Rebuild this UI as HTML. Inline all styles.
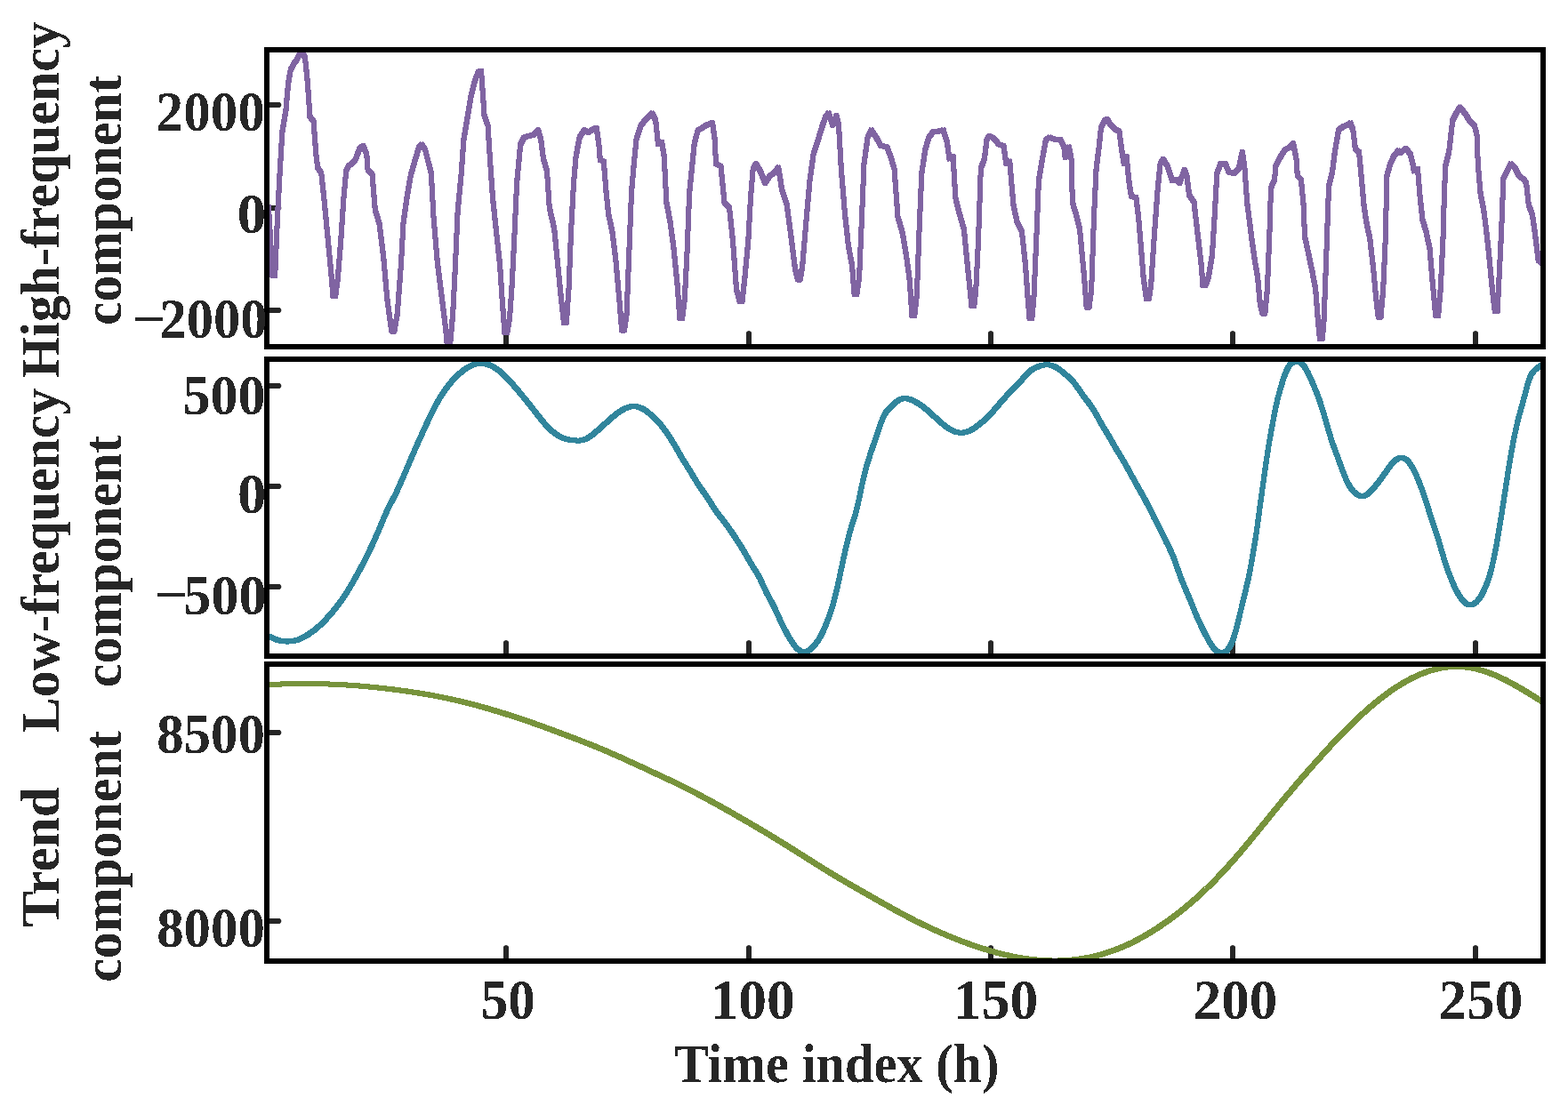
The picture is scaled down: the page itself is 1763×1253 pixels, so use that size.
<!DOCTYPE html><html><head><meta charset="utf-8"><title>Decomposition</title><style>html,body{margin:0;padding:0;background:#fff;overflow:hidden}svg{display:block}</style></head><body>
<svg width="1763" height="1253" viewBox="0 0 1763 1253">
<rect width="1763" height="1253" fill="#fff"/>
<defs>
<clipPath id="c0"><rect x="300" y="56" width="1435" height="334"/></clipPath>
<clipPath id="c1"><rect x="300" y="404" width="1435" height="334"/></clipPath>
<clipPath id="c2"><rect x="300" y="747" width="1435" height="334"/></clipPath>
<filter id="crisp" x="0" y="0" width="100%" height="100%" filterUnits="userSpaceOnUse"><feComponentTransfer><feFuncA type="discrete" tableValues="0 1"/></feComponentTransfer></filter>
</defs>
<g fill="#262626" stroke="none">
<path d="M566,390 L566,373.8 Q569,370.4 572,373.8 L572,390 Z"/>
<path d="M839,390 L839,373.8 Q842,370.4 845,373.8 L845,390 Z"/>
<path d="M1111,390 L1111,373.8 Q1114,370.4 1117,373.8 L1117,390 Z"/>
<path d="M1383,390 L1383,373.8 Q1386,370.4 1389,373.8 L1389,390 Z"/>
<path d="M1656,390 L1656,373.8 Q1659,370.4 1662,373.8 L1662,390 Z"/>
<path d="M300,115 L314.6,115 Q318.2,118 314.6,121 L300,121 Z"/>
<path d="M300,231 L314.6,231 Q318.2,234 314.6,237 L300,237 Z"/>
<path d="M300,346 L314.6,346 Q318.2,349 314.6,352 L300,352 Z"/>
<path d="M566,738 L566,721.8 Q569,718.4 572,721.8 L572,738 Z"/>
<path d="M839,738 L839,721.8 Q842,718.4 845,721.8 L845,738 Z"/>
<path d="M1111,738 L1111,721.8 Q1114,718.4 1117,721.8 L1117,738 Z"/>
<path d="M1383,738 L1383,721.8 Q1386,718.4 1389,721.8 L1389,738 Z"/>
<path d="M1656,738 L1656,721.8 Q1659,718.4 1662,721.8 L1662,738 Z"/>
<path d="M300,431 L314.6,431 Q318.2,434 314.6,437 L300,437 Z"/>
<path d="M300,544 L314.6,544 Q318.2,547 314.6,550 L300,550 Z"/>
<path d="M300,657 L314.6,657 Q318.2,660 314.6,663 L300,663 Z"/>
<path d="M566,1081 L566,1064.8 Q569,1061.4 572,1064.8 L572,1081 Z"/>
<path d="M839,1081 L839,1064.8 Q842,1061.4 845,1064.8 L845,1081 Z"/>
<path d="M1111,1081 L1111,1064.8 Q1114,1061.4 1117,1064.8 L1117,1081 Z"/>
<path d="M1383,1081 L1383,1064.8 Q1386,1061.4 1389,1064.8 L1389,1081 Z"/>
<path d="M1656,1081 L1656,1064.8 Q1659,1061.4 1662,1064.8 L1662,1081 Z"/>
<path d="M300,821 L314.6,821 Q318.2,824 314.6,827 L300,827 Z"/>
<path d="M300,1033 L314.6,1033 Q318.2,1036 314.6,1039 L300,1039 Z"/>
</g>
<g clip-path="url(#c0)" fill="none" stroke="#8064A2" stroke-width="3.50" stroke-linejoin="round" stroke-linecap="round" shape-rendering="crispEdges">
<polyline transform="translate(-1.25,-1.25)" points="302.0,233.0 306.4,310.0 309.2,310.0 312.0,244.0 314.6,195.0 317.3,149.0 321.4,124.5 324.0,94.7 326.8,78.4 330.9,71.0 333.0,69.0 338.5,57.0 343.0,64.8 345.8,92.0 348.5,131.3 352.6,136.7 355.3,173.3 357.2,188.3 361.3,195.0 364.8,227.6 368.9,271.0 373.0,314.4 374.3,333.4 377.1,333.4 379.7,314.4 383.2,271.0 386.5,222.0 389.2,192.3 392.0,186.4 396.0,184.0 400.0,178.8 404.0,168.0 408.2,163.8 412.3,173.3 413.6,191.0 418.5,196.4 421.8,235.7 426.6,252.0 431.3,290.0 435.3,336.0 439.4,366.0 440.6,372.7 443.4,372.7 446.8,352.5 450.9,298.0 453.6,249.4 457.6,222.2 461.7,197.8 467.1,178.8 471.2,165.3 474.0,162.5 478.0,168.0 480.7,178.8 484.8,195.0 487.5,244.0 491.6,292.8 495.6,325.4 501.0,368.8 503.1,390.0 505.9,390.0 509.2,352.5 512.0,298.0 514.6,238.5 518.7,195.0 521.4,157.0 525.5,132.7 529.6,108.3 533.6,92.0 537.7,81.0 541.0,79.8 543.1,108.3 544.5,130.0 548.5,140.8 551.3,184.0 554.0,222.2 558.0,260.2 562.1,298.0 564.8,339.0 567.5,374.2 570.3,374.2 573.0,358.0 575.7,320.0 578.4,265.7 581.1,206.0 585.2,162.5 589.3,154.4 594.7,153.0 600.1,151.7 605.0,146.3 608.2,157.0 611.0,178.8 615.0,192.4 617.7,233.0 623.2,257.5 627.2,298.0 631.3,339.0 634.0,363.4 636.8,363.4 639.5,325.4 642.2,257.5 645.0,206.0 647.6,176.0 651.7,154.4 657.1,146.3 661.2,149.0 665.3,146.3 670.7,143.6 673.4,162.5 674.8,180.0 678.8,181.5 681.6,216.8 684.3,241.2 688.3,260.2 692.4,292.8 696.5,339.0 699.2,371.5 702.0,371.5 704.6,352.5 707.3,284.7 710.0,216.8 712.8,184.3 715.5,157.0 720.9,140.8 725.0,135.4 729.0,131.3 733.1,127.3 737.2,135.4 740.0,162.5 744.0,159.8 746.7,176.0 749.4,227.7 753.5,249.4 757.5,279.2 761.6,320.0 764.3,358.0 767.1,358.0 769.8,336.2 772.5,284.7 775.2,216.8 777.9,189.7 780.6,162.5 784.7,146.3 790.1,143.6 794.2,140.8 801.0,138.1 803.7,157.0 805.0,184.3 810.5,187.0 814.5,227.7 820.0,233.0 824.0,271.0 828.0,325.4 831.7,339.0 834.5,339.0 837.2,314.5 841.3,271.0 844.0,222.2 846.7,189.7 850.0,184.3 854.9,192.4 860.3,206.0 865.7,197.8 871.1,193.8 875.2,188.3 879.3,214.1 884.7,230.4 890.1,271.0 894.2,303.7 896.9,314.5 899.7,314.5 902.3,298.2 906.4,249.4 910.5,203.3 914.6,173.4 920.0,157.0 924.0,143.6 928.1,131.3 931.6,127.3 936.3,140.8 940.3,130.0 943.0,140.8 945.8,189.7 949.8,238.5 953.9,276.5 958.0,298.2 960.6,330.8 963.4,330.8 966.1,311.8 968.8,249.4 971.5,184.3 975.6,154.4 979.7,146.3 985.1,154.4 990.5,164.0 997.3,165.3 1001.4,176.1 1005.5,189.7 1009.5,244.0 1015.0,263.0 1019.0,287.4 1022.7,314.5 1025.4,355.2 1028.2,355.2 1030.9,330.8 1033.6,257.5 1036.3,195.0 1040.4,168.0 1044.4,154.4 1049.9,147.6 1055.3,147.6 1060.7,146.3 1064.8,159.8 1067.5,178.8 1071.6,176.0 1074.3,222.2 1078.3,238.5 1083.8,257.5 1087.8,298.2 1090.6,325.4 1092.4,344.4 1095.2,344.4 1097.3,325.4 1100.0,271.0 1102.8,189.7 1106.8,178.8 1109.6,157.0 1112.3,153.0 1117.7,155.8 1123.1,162.5 1128.5,164.0 1131.3,184.3 1135.3,181.5 1139.4,230.4 1143.5,249.4 1148.9,260.2 1153.0,298.2 1155.7,336.2 1157.5,358.0 1160.3,358.0 1162.5,333.5 1165.2,271.0 1167.9,203.3 1172.0,178.8 1176.0,157.0 1180.1,154.4 1185.5,156.6 1192.3,157.0 1196.4,165.3 1197.7,177.5 1201.8,165.3 1204.5,178.8 1205.9,227.7 1210.0,241.2 1214.0,257.5 1219.1,311.8 1221.7,345.7 1224.5,345.7 1227.2,325.4 1230.0,244.0 1232.6,189.7 1235.4,168.0 1238.0,143.6 1242.1,135.4 1244.9,134.0 1249.0,140.8 1253.0,145.0 1258.4,147.6 1261.1,168.0 1263.8,184.3 1266.6,176.0 1269.3,203.3 1272.0,220.9 1277.4,222.2 1280.1,244.0 1282.8,276.5 1285.6,311.8 1289.0,336.2 1291.8,336.2 1294.2,320.0 1297.8,265.7 1301.8,211.4 1304.6,184.3 1307.8,178.8 1312.7,187.0 1318.1,203.3 1323.5,201.9 1326.3,206.0 1331.7,191.0 1334.4,197.8 1337.1,219.5 1342.5,227.7 1346.6,263.0 1350.7,298.2 1352.5,321.3 1355.3,321.3 1358.8,311.8 1362.9,287.4 1365.6,244.0 1368.3,195.0 1372.4,184.3 1377.8,184.3 1381.9,193.8 1387.3,195.0 1392.7,189.7 1396.8,170.7 1399.5,189.7 1402.2,227.7 1407.7,271.0 1411.7,298.2 1414.1,311.8 1416.8,341.7 1419.5,352.5 1422.3,352.5 1424.9,325.4 1427.6,257.5 1429.0,211.4 1433.1,201.9 1434.4,187.0 1439.9,176.1 1445.3,168.0 1450.7,165.3 1454.0,161.2 1457.5,178.8 1458.8,197.8 1462.9,201.9 1465.6,230.4 1467.0,265.7 1471.1,284.7 1475.1,303.7 1479.2,325.4 1481.9,360.7 1484.0,381.0 1486.8,381.0 1488.7,358.0 1491.4,284.7 1492.8,244.0 1494.1,208.7 1498.2,192.4 1500.9,170.7 1505.0,146.3 1510.4,142.2 1514.5,140.8 1518.5,138.1 1521.3,146.3 1524.0,168.0 1528.0,170.7 1530.8,200.5 1533.5,230.4 1536.2,249.4 1540.3,268.4 1544.3,303.7 1547.0,333.5 1549.7,356.6 1552.5,356.6 1555.2,325.4 1557.9,265.7 1559.3,197.8 1563.3,184.3 1566.8,176.2 1572.2,169.4 1575.0,172.0 1580.4,166.7 1585.8,173.5 1588.5,184.3 1589.9,192.5 1594.0,189.8 1596.7,222.3 1599.4,246.8 1603.4,260.4 1607.5,279.4 1610.2,312.0 1613.0,341.8 1614.3,355.4 1617.1,355.4 1619.7,325.5 1622.4,271.2 1623.8,222.3 1625.2,187.0 1629.2,170.8 1632.0,146.3 1633.3,135.5 1637.4,127.3 1641.5,120.5 1646.9,127.3 1652.3,135.5 1657.7,140.9 1660.5,151.7 1661.8,184.3 1664.5,216.9 1668.6,238.6 1671.3,260.4 1674.0,284.8 1676.8,314.7 1679.5,339.1 1680.8,350.0 1683.6,350.0 1684.9,325.5 1687.6,271.2 1689.0,238.6 1690.3,200.6 1694.4,192.5 1698.5,184.3 1703.9,189.8 1708.0,197.9 1713.4,202.0 1716.1,206.0 1718.8,230.5 1722.9,241.3 1725.6,260.4 1729.7,293.0 1735.0,297.0"/>
<polyline transform="translate(1.25,-1.25)" points="302.0,233.0 306.4,310.0 309.2,310.0 312.0,244.0 314.6,195.0 317.3,149.0 321.4,124.5 324.0,94.7 326.8,78.4 330.9,71.0 333.0,69.0 338.5,57.0 343.0,64.8 345.8,92.0 348.5,131.3 352.6,136.7 355.3,173.3 357.2,188.3 361.3,195.0 364.8,227.6 368.9,271.0 373.0,314.4 374.3,333.4 377.1,333.4 379.7,314.4 383.2,271.0 386.5,222.0 389.2,192.3 392.0,186.4 396.0,184.0 400.0,178.8 404.0,168.0 408.2,163.8 412.3,173.3 413.6,191.0 418.5,196.4 421.8,235.7 426.6,252.0 431.3,290.0 435.3,336.0 439.4,366.0 440.6,372.7 443.4,372.7 446.8,352.5 450.9,298.0 453.6,249.4 457.6,222.2 461.7,197.8 467.1,178.8 471.2,165.3 474.0,162.5 478.0,168.0 480.7,178.8 484.8,195.0 487.5,244.0 491.6,292.8 495.6,325.4 501.0,368.8 503.1,390.0 505.9,390.0 509.2,352.5 512.0,298.0 514.6,238.5 518.7,195.0 521.4,157.0 525.5,132.7 529.6,108.3 533.6,92.0 537.7,81.0 541.0,79.8 543.1,108.3 544.5,130.0 548.5,140.8 551.3,184.0 554.0,222.2 558.0,260.2 562.1,298.0 564.8,339.0 567.5,374.2 570.3,374.2 573.0,358.0 575.7,320.0 578.4,265.7 581.1,206.0 585.2,162.5 589.3,154.4 594.7,153.0 600.1,151.7 605.0,146.3 608.2,157.0 611.0,178.8 615.0,192.4 617.7,233.0 623.2,257.5 627.2,298.0 631.3,339.0 634.0,363.4 636.8,363.4 639.5,325.4 642.2,257.5 645.0,206.0 647.6,176.0 651.7,154.4 657.1,146.3 661.2,149.0 665.3,146.3 670.7,143.6 673.4,162.5 674.8,180.0 678.8,181.5 681.6,216.8 684.3,241.2 688.3,260.2 692.4,292.8 696.5,339.0 699.2,371.5 702.0,371.5 704.6,352.5 707.3,284.7 710.0,216.8 712.8,184.3 715.5,157.0 720.9,140.8 725.0,135.4 729.0,131.3 733.1,127.3 737.2,135.4 740.0,162.5 744.0,159.8 746.7,176.0 749.4,227.7 753.5,249.4 757.5,279.2 761.6,320.0 764.3,358.0 767.1,358.0 769.8,336.2 772.5,284.7 775.2,216.8 777.9,189.7 780.6,162.5 784.7,146.3 790.1,143.6 794.2,140.8 801.0,138.1 803.7,157.0 805.0,184.3 810.5,187.0 814.5,227.7 820.0,233.0 824.0,271.0 828.0,325.4 831.7,339.0 834.5,339.0 837.2,314.5 841.3,271.0 844.0,222.2 846.7,189.7 850.0,184.3 854.9,192.4 860.3,206.0 865.7,197.8 871.1,193.8 875.2,188.3 879.3,214.1 884.7,230.4 890.1,271.0 894.2,303.7 896.9,314.5 899.7,314.5 902.3,298.2 906.4,249.4 910.5,203.3 914.6,173.4 920.0,157.0 924.0,143.6 928.1,131.3 931.6,127.3 936.3,140.8 940.3,130.0 943.0,140.8 945.8,189.7 949.8,238.5 953.9,276.5 958.0,298.2 960.6,330.8 963.4,330.8 966.1,311.8 968.8,249.4 971.5,184.3 975.6,154.4 979.7,146.3 985.1,154.4 990.5,164.0 997.3,165.3 1001.4,176.1 1005.5,189.7 1009.5,244.0 1015.0,263.0 1019.0,287.4 1022.7,314.5 1025.4,355.2 1028.2,355.2 1030.9,330.8 1033.6,257.5 1036.3,195.0 1040.4,168.0 1044.4,154.4 1049.9,147.6 1055.3,147.6 1060.7,146.3 1064.8,159.8 1067.5,178.8 1071.6,176.0 1074.3,222.2 1078.3,238.5 1083.8,257.5 1087.8,298.2 1090.6,325.4 1092.4,344.4 1095.2,344.4 1097.3,325.4 1100.0,271.0 1102.8,189.7 1106.8,178.8 1109.6,157.0 1112.3,153.0 1117.7,155.8 1123.1,162.5 1128.5,164.0 1131.3,184.3 1135.3,181.5 1139.4,230.4 1143.5,249.4 1148.9,260.2 1153.0,298.2 1155.7,336.2 1157.5,358.0 1160.3,358.0 1162.5,333.5 1165.2,271.0 1167.9,203.3 1172.0,178.8 1176.0,157.0 1180.1,154.4 1185.5,156.6 1192.3,157.0 1196.4,165.3 1197.7,177.5 1201.8,165.3 1204.5,178.8 1205.9,227.7 1210.0,241.2 1214.0,257.5 1219.1,311.8 1221.7,345.7 1224.5,345.7 1227.2,325.4 1230.0,244.0 1232.6,189.7 1235.4,168.0 1238.0,143.6 1242.1,135.4 1244.9,134.0 1249.0,140.8 1253.0,145.0 1258.4,147.6 1261.1,168.0 1263.8,184.3 1266.6,176.0 1269.3,203.3 1272.0,220.9 1277.4,222.2 1280.1,244.0 1282.8,276.5 1285.6,311.8 1289.0,336.2 1291.8,336.2 1294.2,320.0 1297.8,265.7 1301.8,211.4 1304.6,184.3 1307.8,178.8 1312.7,187.0 1318.1,203.3 1323.5,201.9 1326.3,206.0 1331.7,191.0 1334.4,197.8 1337.1,219.5 1342.5,227.7 1346.6,263.0 1350.7,298.2 1352.5,321.3 1355.3,321.3 1358.8,311.8 1362.9,287.4 1365.6,244.0 1368.3,195.0 1372.4,184.3 1377.8,184.3 1381.9,193.8 1387.3,195.0 1392.7,189.7 1396.8,170.7 1399.5,189.7 1402.2,227.7 1407.7,271.0 1411.7,298.2 1414.1,311.8 1416.8,341.7 1419.5,352.5 1422.3,352.5 1424.9,325.4 1427.6,257.5 1429.0,211.4 1433.1,201.9 1434.4,187.0 1439.9,176.1 1445.3,168.0 1450.7,165.3 1454.0,161.2 1457.5,178.8 1458.8,197.8 1462.9,201.9 1465.6,230.4 1467.0,265.7 1471.1,284.7 1475.1,303.7 1479.2,325.4 1481.9,360.7 1484.0,381.0 1486.8,381.0 1488.7,358.0 1491.4,284.7 1492.8,244.0 1494.1,208.7 1498.2,192.4 1500.9,170.7 1505.0,146.3 1510.4,142.2 1514.5,140.8 1518.5,138.1 1521.3,146.3 1524.0,168.0 1528.0,170.7 1530.8,200.5 1533.5,230.4 1536.2,249.4 1540.3,268.4 1544.3,303.7 1547.0,333.5 1549.7,356.6 1552.5,356.6 1555.2,325.4 1557.9,265.7 1559.3,197.8 1563.3,184.3 1566.8,176.2 1572.2,169.4 1575.0,172.0 1580.4,166.7 1585.8,173.5 1588.5,184.3 1589.9,192.5 1594.0,189.8 1596.7,222.3 1599.4,246.8 1603.4,260.4 1607.5,279.4 1610.2,312.0 1613.0,341.8 1614.3,355.4 1617.1,355.4 1619.7,325.5 1622.4,271.2 1623.8,222.3 1625.2,187.0 1629.2,170.8 1632.0,146.3 1633.3,135.5 1637.4,127.3 1641.5,120.5 1646.9,127.3 1652.3,135.5 1657.7,140.9 1660.5,151.7 1661.8,184.3 1664.5,216.9 1668.6,238.6 1671.3,260.4 1674.0,284.8 1676.8,314.7 1679.5,339.1 1680.8,350.0 1683.6,350.0 1684.9,325.5 1687.6,271.2 1689.0,238.6 1690.3,200.6 1694.4,192.5 1698.5,184.3 1703.9,189.8 1708.0,197.9 1713.4,202.0 1716.1,206.0 1718.8,230.5 1722.9,241.3 1725.6,260.4 1729.7,293.0 1735.0,297.0"/>
<polyline transform="translate(-1.25,1.25)" points="302.0,233.0 306.4,310.0 309.2,310.0 312.0,244.0 314.6,195.0 317.3,149.0 321.4,124.5 324.0,94.7 326.8,78.4 330.9,71.0 333.0,69.0 338.5,57.0 343.0,64.8 345.8,92.0 348.5,131.3 352.6,136.7 355.3,173.3 357.2,188.3 361.3,195.0 364.8,227.6 368.9,271.0 373.0,314.4 374.3,333.4 377.1,333.4 379.7,314.4 383.2,271.0 386.5,222.0 389.2,192.3 392.0,186.4 396.0,184.0 400.0,178.8 404.0,168.0 408.2,163.8 412.3,173.3 413.6,191.0 418.5,196.4 421.8,235.7 426.6,252.0 431.3,290.0 435.3,336.0 439.4,366.0 440.6,372.7 443.4,372.7 446.8,352.5 450.9,298.0 453.6,249.4 457.6,222.2 461.7,197.8 467.1,178.8 471.2,165.3 474.0,162.5 478.0,168.0 480.7,178.8 484.8,195.0 487.5,244.0 491.6,292.8 495.6,325.4 501.0,368.8 503.1,390.0 505.9,390.0 509.2,352.5 512.0,298.0 514.6,238.5 518.7,195.0 521.4,157.0 525.5,132.7 529.6,108.3 533.6,92.0 537.7,81.0 541.0,79.8 543.1,108.3 544.5,130.0 548.5,140.8 551.3,184.0 554.0,222.2 558.0,260.2 562.1,298.0 564.8,339.0 567.5,374.2 570.3,374.2 573.0,358.0 575.7,320.0 578.4,265.7 581.1,206.0 585.2,162.5 589.3,154.4 594.7,153.0 600.1,151.7 605.0,146.3 608.2,157.0 611.0,178.8 615.0,192.4 617.7,233.0 623.2,257.5 627.2,298.0 631.3,339.0 634.0,363.4 636.8,363.4 639.5,325.4 642.2,257.5 645.0,206.0 647.6,176.0 651.7,154.4 657.1,146.3 661.2,149.0 665.3,146.3 670.7,143.6 673.4,162.5 674.8,180.0 678.8,181.5 681.6,216.8 684.3,241.2 688.3,260.2 692.4,292.8 696.5,339.0 699.2,371.5 702.0,371.5 704.6,352.5 707.3,284.7 710.0,216.8 712.8,184.3 715.5,157.0 720.9,140.8 725.0,135.4 729.0,131.3 733.1,127.3 737.2,135.4 740.0,162.5 744.0,159.8 746.7,176.0 749.4,227.7 753.5,249.4 757.5,279.2 761.6,320.0 764.3,358.0 767.1,358.0 769.8,336.2 772.5,284.7 775.2,216.8 777.9,189.7 780.6,162.5 784.7,146.3 790.1,143.6 794.2,140.8 801.0,138.1 803.7,157.0 805.0,184.3 810.5,187.0 814.5,227.7 820.0,233.0 824.0,271.0 828.0,325.4 831.7,339.0 834.5,339.0 837.2,314.5 841.3,271.0 844.0,222.2 846.7,189.7 850.0,184.3 854.9,192.4 860.3,206.0 865.7,197.8 871.1,193.8 875.2,188.3 879.3,214.1 884.7,230.4 890.1,271.0 894.2,303.7 896.9,314.5 899.7,314.5 902.3,298.2 906.4,249.4 910.5,203.3 914.6,173.4 920.0,157.0 924.0,143.6 928.1,131.3 931.6,127.3 936.3,140.8 940.3,130.0 943.0,140.8 945.8,189.7 949.8,238.5 953.9,276.5 958.0,298.2 960.6,330.8 963.4,330.8 966.1,311.8 968.8,249.4 971.5,184.3 975.6,154.4 979.7,146.3 985.1,154.4 990.5,164.0 997.3,165.3 1001.4,176.1 1005.5,189.7 1009.5,244.0 1015.0,263.0 1019.0,287.4 1022.7,314.5 1025.4,355.2 1028.2,355.2 1030.9,330.8 1033.6,257.5 1036.3,195.0 1040.4,168.0 1044.4,154.4 1049.9,147.6 1055.3,147.6 1060.7,146.3 1064.8,159.8 1067.5,178.8 1071.6,176.0 1074.3,222.2 1078.3,238.5 1083.8,257.5 1087.8,298.2 1090.6,325.4 1092.4,344.4 1095.2,344.4 1097.3,325.4 1100.0,271.0 1102.8,189.7 1106.8,178.8 1109.6,157.0 1112.3,153.0 1117.7,155.8 1123.1,162.5 1128.5,164.0 1131.3,184.3 1135.3,181.5 1139.4,230.4 1143.5,249.4 1148.9,260.2 1153.0,298.2 1155.7,336.2 1157.5,358.0 1160.3,358.0 1162.5,333.5 1165.2,271.0 1167.9,203.3 1172.0,178.8 1176.0,157.0 1180.1,154.4 1185.5,156.6 1192.3,157.0 1196.4,165.3 1197.7,177.5 1201.8,165.3 1204.5,178.8 1205.9,227.7 1210.0,241.2 1214.0,257.5 1219.1,311.8 1221.7,345.7 1224.5,345.7 1227.2,325.4 1230.0,244.0 1232.6,189.7 1235.4,168.0 1238.0,143.6 1242.1,135.4 1244.9,134.0 1249.0,140.8 1253.0,145.0 1258.4,147.6 1261.1,168.0 1263.8,184.3 1266.6,176.0 1269.3,203.3 1272.0,220.9 1277.4,222.2 1280.1,244.0 1282.8,276.5 1285.6,311.8 1289.0,336.2 1291.8,336.2 1294.2,320.0 1297.8,265.7 1301.8,211.4 1304.6,184.3 1307.8,178.8 1312.7,187.0 1318.1,203.3 1323.5,201.9 1326.3,206.0 1331.7,191.0 1334.4,197.8 1337.1,219.5 1342.5,227.7 1346.6,263.0 1350.7,298.2 1352.5,321.3 1355.3,321.3 1358.8,311.8 1362.9,287.4 1365.6,244.0 1368.3,195.0 1372.4,184.3 1377.8,184.3 1381.9,193.8 1387.3,195.0 1392.7,189.7 1396.8,170.7 1399.5,189.7 1402.2,227.7 1407.7,271.0 1411.7,298.2 1414.1,311.8 1416.8,341.7 1419.5,352.5 1422.3,352.5 1424.9,325.4 1427.6,257.5 1429.0,211.4 1433.1,201.9 1434.4,187.0 1439.9,176.1 1445.3,168.0 1450.7,165.3 1454.0,161.2 1457.5,178.8 1458.8,197.8 1462.9,201.9 1465.6,230.4 1467.0,265.7 1471.1,284.7 1475.1,303.7 1479.2,325.4 1481.9,360.7 1484.0,381.0 1486.8,381.0 1488.7,358.0 1491.4,284.7 1492.8,244.0 1494.1,208.7 1498.2,192.4 1500.9,170.7 1505.0,146.3 1510.4,142.2 1514.5,140.8 1518.5,138.1 1521.3,146.3 1524.0,168.0 1528.0,170.7 1530.8,200.5 1533.5,230.4 1536.2,249.4 1540.3,268.4 1544.3,303.7 1547.0,333.5 1549.7,356.6 1552.5,356.6 1555.2,325.4 1557.9,265.7 1559.3,197.8 1563.3,184.3 1566.8,176.2 1572.2,169.4 1575.0,172.0 1580.4,166.7 1585.8,173.5 1588.5,184.3 1589.9,192.5 1594.0,189.8 1596.7,222.3 1599.4,246.8 1603.4,260.4 1607.5,279.4 1610.2,312.0 1613.0,341.8 1614.3,355.4 1617.1,355.4 1619.7,325.5 1622.4,271.2 1623.8,222.3 1625.2,187.0 1629.2,170.8 1632.0,146.3 1633.3,135.5 1637.4,127.3 1641.5,120.5 1646.9,127.3 1652.3,135.5 1657.7,140.9 1660.5,151.7 1661.8,184.3 1664.5,216.9 1668.6,238.6 1671.3,260.4 1674.0,284.8 1676.8,314.7 1679.5,339.1 1680.8,350.0 1683.6,350.0 1684.9,325.5 1687.6,271.2 1689.0,238.6 1690.3,200.6 1694.4,192.5 1698.5,184.3 1703.9,189.8 1708.0,197.9 1713.4,202.0 1716.1,206.0 1718.8,230.5 1722.9,241.3 1725.6,260.4 1729.7,293.0 1735.0,297.0"/>
<polyline transform="translate(1.25,1.25)" points="302.0,233.0 306.4,310.0 309.2,310.0 312.0,244.0 314.6,195.0 317.3,149.0 321.4,124.5 324.0,94.7 326.8,78.4 330.9,71.0 333.0,69.0 338.5,57.0 343.0,64.8 345.8,92.0 348.5,131.3 352.6,136.7 355.3,173.3 357.2,188.3 361.3,195.0 364.8,227.6 368.9,271.0 373.0,314.4 374.3,333.4 377.1,333.4 379.7,314.4 383.2,271.0 386.5,222.0 389.2,192.3 392.0,186.4 396.0,184.0 400.0,178.8 404.0,168.0 408.2,163.8 412.3,173.3 413.6,191.0 418.5,196.4 421.8,235.7 426.6,252.0 431.3,290.0 435.3,336.0 439.4,366.0 440.6,372.7 443.4,372.7 446.8,352.5 450.9,298.0 453.6,249.4 457.6,222.2 461.7,197.8 467.1,178.8 471.2,165.3 474.0,162.5 478.0,168.0 480.7,178.8 484.8,195.0 487.5,244.0 491.6,292.8 495.6,325.4 501.0,368.8 503.1,390.0 505.9,390.0 509.2,352.5 512.0,298.0 514.6,238.5 518.7,195.0 521.4,157.0 525.5,132.7 529.6,108.3 533.6,92.0 537.7,81.0 541.0,79.8 543.1,108.3 544.5,130.0 548.5,140.8 551.3,184.0 554.0,222.2 558.0,260.2 562.1,298.0 564.8,339.0 567.5,374.2 570.3,374.2 573.0,358.0 575.7,320.0 578.4,265.7 581.1,206.0 585.2,162.5 589.3,154.4 594.7,153.0 600.1,151.7 605.0,146.3 608.2,157.0 611.0,178.8 615.0,192.4 617.7,233.0 623.2,257.5 627.2,298.0 631.3,339.0 634.0,363.4 636.8,363.4 639.5,325.4 642.2,257.5 645.0,206.0 647.6,176.0 651.7,154.4 657.1,146.3 661.2,149.0 665.3,146.3 670.7,143.6 673.4,162.5 674.8,180.0 678.8,181.5 681.6,216.8 684.3,241.2 688.3,260.2 692.4,292.8 696.5,339.0 699.2,371.5 702.0,371.5 704.6,352.5 707.3,284.7 710.0,216.8 712.8,184.3 715.5,157.0 720.9,140.8 725.0,135.4 729.0,131.3 733.1,127.3 737.2,135.4 740.0,162.5 744.0,159.8 746.7,176.0 749.4,227.7 753.5,249.4 757.5,279.2 761.6,320.0 764.3,358.0 767.1,358.0 769.8,336.2 772.5,284.7 775.2,216.8 777.9,189.7 780.6,162.5 784.7,146.3 790.1,143.6 794.2,140.8 801.0,138.1 803.7,157.0 805.0,184.3 810.5,187.0 814.5,227.7 820.0,233.0 824.0,271.0 828.0,325.4 831.7,339.0 834.5,339.0 837.2,314.5 841.3,271.0 844.0,222.2 846.7,189.7 850.0,184.3 854.9,192.4 860.3,206.0 865.7,197.8 871.1,193.8 875.2,188.3 879.3,214.1 884.7,230.4 890.1,271.0 894.2,303.7 896.9,314.5 899.7,314.5 902.3,298.2 906.4,249.4 910.5,203.3 914.6,173.4 920.0,157.0 924.0,143.6 928.1,131.3 931.6,127.3 936.3,140.8 940.3,130.0 943.0,140.8 945.8,189.7 949.8,238.5 953.9,276.5 958.0,298.2 960.6,330.8 963.4,330.8 966.1,311.8 968.8,249.4 971.5,184.3 975.6,154.4 979.7,146.3 985.1,154.4 990.5,164.0 997.3,165.3 1001.4,176.1 1005.5,189.7 1009.5,244.0 1015.0,263.0 1019.0,287.4 1022.7,314.5 1025.4,355.2 1028.2,355.2 1030.9,330.8 1033.6,257.5 1036.3,195.0 1040.4,168.0 1044.4,154.4 1049.9,147.6 1055.3,147.6 1060.7,146.3 1064.8,159.8 1067.5,178.8 1071.6,176.0 1074.3,222.2 1078.3,238.5 1083.8,257.5 1087.8,298.2 1090.6,325.4 1092.4,344.4 1095.2,344.4 1097.3,325.4 1100.0,271.0 1102.8,189.7 1106.8,178.8 1109.6,157.0 1112.3,153.0 1117.7,155.8 1123.1,162.5 1128.5,164.0 1131.3,184.3 1135.3,181.5 1139.4,230.4 1143.5,249.4 1148.9,260.2 1153.0,298.2 1155.7,336.2 1157.5,358.0 1160.3,358.0 1162.5,333.5 1165.2,271.0 1167.9,203.3 1172.0,178.8 1176.0,157.0 1180.1,154.4 1185.5,156.6 1192.3,157.0 1196.4,165.3 1197.7,177.5 1201.8,165.3 1204.5,178.8 1205.9,227.7 1210.0,241.2 1214.0,257.5 1219.1,311.8 1221.7,345.7 1224.5,345.7 1227.2,325.4 1230.0,244.0 1232.6,189.7 1235.4,168.0 1238.0,143.6 1242.1,135.4 1244.9,134.0 1249.0,140.8 1253.0,145.0 1258.4,147.6 1261.1,168.0 1263.8,184.3 1266.6,176.0 1269.3,203.3 1272.0,220.9 1277.4,222.2 1280.1,244.0 1282.8,276.5 1285.6,311.8 1289.0,336.2 1291.8,336.2 1294.2,320.0 1297.8,265.7 1301.8,211.4 1304.6,184.3 1307.8,178.8 1312.7,187.0 1318.1,203.3 1323.5,201.9 1326.3,206.0 1331.7,191.0 1334.4,197.8 1337.1,219.5 1342.5,227.7 1346.6,263.0 1350.7,298.2 1352.5,321.3 1355.3,321.3 1358.8,311.8 1362.9,287.4 1365.6,244.0 1368.3,195.0 1372.4,184.3 1377.8,184.3 1381.9,193.8 1387.3,195.0 1392.7,189.7 1396.8,170.7 1399.5,189.7 1402.2,227.7 1407.7,271.0 1411.7,298.2 1414.1,311.8 1416.8,341.7 1419.5,352.5 1422.3,352.5 1424.9,325.4 1427.6,257.5 1429.0,211.4 1433.1,201.9 1434.4,187.0 1439.9,176.1 1445.3,168.0 1450.7,165.3 1454.0,161.2 1457.5,178.8 1458.8,197.8 1462.9,201.9 1465.6,230.4 1467.0,265.7 1471.1,284.7 1475.1,303.7 1479.2,325.4 1481.9,360.7 1484.0,381.0 1486.8,381.0 1488.7,358.0 1491.4,284.7 1492.8,244.0 1494.1,208.7 1498.2,192.4 1500.9,170.7 1505.0,146.3 1510.4,142.2 1514.5,140.8 1518.5,138.1 1521.3,146.3 1524.0,168.0 1528.0,170.7 1530.8,200.5 1533.5,230.4 1536.2,249.4 1540.3,268.4 1544.3,303.7 1547.0,333.5 1549.7,356.6 1552.5,356.6 1555.2,325.4 1557.9,265.7 1559.3,197.8 1563.3,184.3 1566.8,176.2 1572.2,169.4 1575.0,172.0 1580.4,166.7 1585.8,173.5 1588.5,184.3 1589.9,192.5 1594.0,189.8 1596.7,222.3 1599.4,246.8 1603.4,260.4 1607.5,279.4 1610.2,312.0 1613.0,341.8 1614.3,355.4 1617.1,355.4 1619.7,325.5 1622.4,271.2 1623.8,222.3 1625.2,187.0 1629.2,170.8 1632.0,146.3 1633.3,135.5 1637.4,127.3 1641.5,120.5 1646.9,127.3 1652.3,135.5 1657.7,140.9 1660.5,151.7 1661.8,184.3 1664.5,216.9 1668.6,238.6 1671.3,260.4 1674.0,284.8 1676.8,314.7 1679.5,339.1 1680.8,350.0 1683.6,350.0 1684.9,325.5 1687.6,271.2 1689.0,238.6 1690.3,200.6 1694.4,192.5 1698.5,184.3 1703.9,189.8 1708.0,197.9 1713.4,202.0 1716.1,206.0 1718.8,230.5 1722.9,241.3 1725.6,260.4 1729.7,293.0 1735.0,297.0"/>
</g>
<g clip-path="url(#c1)" fill="none" stroke="#31859C" stroke-width="3.50" stroke-linejoin="round" stroke-linecap="round" shape-rendering="crispEdges">
<polyline transform="translate(-1.25,-1.25)" points="300.0,715.4 302.0,715.9 304.0,716.5 306.0,717.3 308.0,718.2 310.0,719.1 312.0,719.9 314.0,720.5 316.0,720.9 318.0,721.2 320.0,721.4 322.0,721.5 324.0,721.5 326.0,721.4 328.0,721.2 330.0,720.9 332.0,720.4 334.0,719.9 336.0,719.2 338.0,718.4 340.0,717.4 342.0,716.4 344.0,715.2 346.0,714.0 348.0,712.7 350.0,711.3 352.0,709.8 354.0,708.3 356.0,706.7 358.0,704.9 360.0,703.1 362.0,701.2 364.0,699.2 366.0,697.2 368.0,695.0 370.0,692.8 372.0,690.5 374.0,688.2 376.0,685.7 378.0,683.2 380.0,680.6 382.0,677.9 384.0,675.1 386.0,672.2 388.0,669.2 390.0,666.1 392.0,662.9 394.0,659.6 396.0,656.2 398.0,652.7 400.0,649.1 402.0,645.5 404.0,641.9 406.0,638.1 408.0,634.3 410.0,630.4 412.0,626.4 414.0,622.3 416.0,618.2 418.0,614.0 420.0,609.7 422.0,605.2 424.0,600.7 426.0,596.0 428.0,591.2 430.0,586.4 432.0,581.7 434.0,577.1 436.0,572.7 438.0,568.5 440.0,564.8 442.0,561.1 444.0,557.3 446.0,553.2 448.0,548.8 450.0,544.3 452.0,539.6 454.0,535.0 456.0,530.4 458.0,525.7 460.0,521.0 462.0,516.3 464.0,511.6 466.0,507.0 468.0,502.4 470.0,497.9 472.0,493.5 474.0,489.1 476.0,484.8 478.0,480.4 480.0,476.0 482.0,471.7 484.0,467.4 486.0,463.3 488.0,459.4 490.0,455.6 492.0,452.0 494.0,448.6 496.0,445.3 498.0,442.2 500.0,439.3 502.0,436.5 504.0,433.9 506.0,431.4 508.0,429.0 510.0,426.8 512.0,424.7 514.0,422.7 516.0,420.8 518.0,419.1 520.0,417.4 522.0,415.9 524.0,414.5 526.0,413.3 528.0,412.1 530.0,411.2 532.0,410.3 534.0,409.7 536.0,409.2 538.0,408.9 540.0,408.8 542.0,408.8 544.0,409.0 546.0,409.3 548.0,409.8 550.0,410.5 552.0,411.3 554.0,412.2 556.0,413.4 558.0,414.7 560.0,416.1 562.0,417.7 564.0,419.4 566.0,421.3 568.0,423.2 570.0,425.3 572.0,427.4 574.0,429.6 576.0,431.8 578.0,434.1 580.0,436.4 582.0,438.8 584.0,441.1 586.0,443.5 588.0,446.0 590.0,448.4 592.0,450.9 594.0,453.4 596.0,455.9 598.0,458.4 600.0,461.0 602.0,463.6 604.0,466.2 606.0,468.7 608.0,471.2 610.0,473.6 612.0,476.0 614.0,478.2 616.0,480.4 618.0,482.4 620.0,484.3 622.0,486.0 624.0,487.5 626.0,488.9 628.0,490.2 630.0,491.3 632.0,492.2 634.0,493.0 636.0,493.6 638.0,494.2 640.0,494.6 642.0,494.9 644.0,495.2 646.0,495.3 648.0,495.5 650.0,495.5 652.0,495.5 654.0,495.2 656.0,494.8 658.0,494.1 660.0,493.2 662.0,492.0 664.0,490.6 666.0,489.1 668.0,487.5 670.0,485.8 672.0,484.1 674.0,482.3 676.0,480.5 678.0,478.7 680.0,476.9 682.0,475.1 684.0,473.3 686.0,471.6 688.0,469.8 690.0,468.2 692.0,466.6 694.0,465.0 696.0,463.6 698.0,462.3 700.0,461.0 702.0,459.9 704.0,459.0 706.0,458.2 708.0,457.6 710.0,457.2 712.0,457.0 714.0,457.1 716.0,457.3 718.0,457.8 720.0,458.6 722.0,459.5 724.0,460.6 726.0,461.9 728.0,463.4 730.0,465.0 732.0,466.7 734.0,468.4 736.0,470.3 738.0,472.3 740.0,474.4 742.0,476.7 744.0,479.2 746.0,481.8 748.0,484.5 750.0,487.4 752.0,490.3 754.0,493.4 756.0,496.5 758.0,499.8 760.0,503.2 762.0,506.7 764.0,510.2 766.0,513.7 768.0,517.1 770.0,520.3 772.0,523.5 774.0,526.7 776.0,529.9 778.0,533.2 780.0,536.6 782.0,539.9 784.0,543.2 786.0,546.3 788.0,549.2 790.0,552.0 792.0,554.8 794.0,557.6 796.0,560.6 798.0,563.8 800.0,567.0 802.0,570.2 804.0,573.3 806.0,576.2 808.0,578.9 810.0,581.4 812.0,583.9 814.0,586.4 816.0,589.0 818.0,591.7 820.0,594.6 822.0,597.5 824.0,600.5 826.0,603.5 828.0,606.5 830.0,609.6 832.0,612.7 834.0,616.0 836.0,619.3 838.0,622.8 840.0,626.3 842.0,629.8 844.0,633.2 846.0,636.5 848.0,639.7 850.0,642.9 852.0,646.2 854.0,649.8 856.0,653.9 858.0,658.2 860.0,662.7 862.0,666.9 864.0,670.7 866.0,674.3 868.0,678.0 870.0,681.8 872.0,686.1 874.0,690.5 876.0,694.9 878.0,699.2 880.0,703.3 882.0,707.2 884.0,711.1 886.0,714.8 888.0,718.2 890.0,721.5 892.0,724.4 894.0,727.0 896.0,729.2 898.0,730.9 900.0,732.2 902.0,733.1 904.0,733.4 906.0,733.2 908.0,732.4 910.0,731.3 912.0,729.7 914.0,727.8 916.0,725.5 918.0,723.0 920.0,720.1 922.0,716.9 924.0,713.2 926.0,709.0 928.0,704.4 930.0,699.3 932.0,694.0 934.0,688.2 936.0,681.9 938.0,674.8 940.0,666.9 942.0,658.3 944.0,649.0 946.0,639.5 948.0,630.0 950.0,620.9 952.0,612.5 954.0,604.7 956.0,597.2 958.0,590.3 960.0,584.1 962.0,577.7 964.0,570.0 966.0,560.8 968.0,551.1 970.0,541.7 972.0,533.1 974.0,525.5 976.0,518.8 978.0,512.5 980.0,506.5 982.0,500.6 984.0,494.7 986.0,488.6 988.0,482.7 990.0,477.1 992.0,471.9 994.0,467.5 996.0,464.0 998.0,461.3 1000.0,459.2 1002.0,457.4 1004.0,455.6 1006.0,453.7 1008.0,452.0 1010.0,450.5 1012.0,449.3 1014.0,448.6 1016.0,448.1 1018.0,448.1 1020.0,448.3 1022.0,448.8 1024.0,449.5 1026.0,450.4 1028.0,451.4 1030.0,452.4 1032.0,453.6 1034.0,454.9 1036.0,456.2 1038.0,457.7 1040.0,459.2 1042.0,460.9 1044.0,462.6 1046.0,464.4 1048.0,466.2 1050.0,468.1 1052.0,469.9 1054.0,471.8 1056.0,473.5 1058.0,475.3 1060.0,477.0 1062.0,478.6 1064.0,480.1 1066.0,481.5 1068.0,482.8 1070.0,483.9 1072.0,484.9 1074.0,485.6 1076.0,486.2 1078.0,486.5 1080.0,486.7 1082.0,486.7 1084.0,486.4 1086.0,486.0 1088.0,485.4 1090.0,484.6 1092.0,483.6 1094.0,482.4 1096.0,481.1 1098.0,479.6 1100.0,478.1 1102.0,476.5 1104.0,474.9 1106.0,473.2 1108.0,471.4 1110.0,469.5 1112.0,467.5 1114.0,465.4 1116.0,463.2 1118.0,461.0 1120.0,458.7 1122.0,456.4 1124.0,454.0 1126.0,451.7 1128.0,449.3 1130.0,447.1 1132.0,444.9 1134.0,442.7 1136.0,440.7 1138.0,438.8 1140.0,436.8 1142.0,434.8 1144.0,432.8 1146.0,430.6 1148.0,428.3 1150.0,425.9 1152.0,423.5 1154.0,421.2 1156.0,419.2 1158.0,417.4 1160.0,416.0 1162.0,414.8 1164.0,413.8 1166.0,412.9 1168.0,412.1 1170.0,411.5 1172.0,410.9 1174.0,410.5 1176.0,410.3 1178.0,410.3 1180.0,410.5 1182.0,411.0 1184.0,411.6 1186.0,412.5 1188.0,413.6 1190.0,414.8 1192.0,416.2 1194.0,417.8 1196.0,419.4 1198.0,421.1 1200.0,422.9 1202.0,424.7 1204.0,426.6 1206.0,428.7 1208.0,431.0 1210.0,433.6 1212.0,436.4 1214.0,439.3 1216.0,442.3 1218.0,445.1 1220.0,447.7 1222.0,450.3 1224.0,453.0 1226.0,455.8 1228.0,458.7 1230.0,461.9 1232.0,465.2 1234.0,468.7 1236.0,472.3 1238.0,476.0 1240.0,479.5 1242.0,482.8 1244.0,486.0 1246.0,489.3 1248.0,492.6 1250.0,496.2 1252.0,499.8 1254.0,503.3 1256.0,506.6 1258.0,509.9 1260.0,513.1 1262.0,516.4 1264.0,519.8 1266.0,523.4 1268.0,527.0 1270.0,530.6 1272.0,534.3 1274.0,537.9 1276.0,541.5 1278.0,545.1 1280.0,548.7 1282.0,552.3 1284.0,555.8 1286.0,559.4 1288.0,563.0 1290.0,566.8 1292.0,570.7 1294.0,574.7 1296.0,578.8 1298.0,582.8 1300.0,586.8 1302.0,590.7 1304.0,594.7 1306.0,598.7 1308.0,602.7 1310.0,606.8 1312.0,610.8 1314.0,614.8 1316.0,618.9 1318.0,623.3 1320.0,628.1 1322.0,633.6 1324.0,639.5 1326.0,645.3 1328.0,650.7 1330.0,655.7 1332.0,660.4 1334.0,665.0 1336.0,669.8 1338.0,674.6 1340.0,679.5 1342.0,684.4 1344.0,689.3 1346.0,694.1 1348.0,698.6 1350.0,702.9 1352.0,707.0 1354.0,711.0 1356.0,714.8 1358.0,718.6 1360.0,722.2 1362.0,725.4 1364.0,728.1 1366.0,730.4 1368.0,732.1 1370.0,733.3 1372.0,734.0 1374.0,734.3 1376.0,734.0 1378.0,733.0 1380.0,731.3 1382.0,728.7 1384.0,725.2 1386.0,720.5 1388.0,714.6 1390.0,707.4 1392.0,699.4 1394.0,691.2 1396.0,683.0 1398.0,674.7 1400.0,666.4 1402.0,657.8 1404.0,648.9 1406.0,638.9 1408.0,627.5 1410.0,615.9 1412.0,603.7 1414.0,589.5 1416.0,574.5 1418.0,559.9 1420.0,545.6 1422.0,531.4 1424.0,517.4 1426.0,504.1 1428.0,492.2 1430.0,481.2 1432.0,470.4 1434.0,460.1 1436.0,451.0 1438.0,443.1 1440.0,435.9 1442.0,429.4 1444.0,423.4 1446.0,418.2 1448.0,413.9 1450.0,410.8 1452.0,408.7 1454.0,407.4 1456.0,406.7 1458.0,406.6 1460.0,406.9 1462.0,407.8 1464.0,409.3 1466.0,411.5 1468.0,414.5 1470.0,418.1 1472.0,422.2 1474.0,426.6 1476.0,431.2 1478.0,435.9 1480.0,440.7 1482.0,445.8 1484.0,451.4 1486.0,457.6 1488.0,464.2 1490.0,470.9 1492.0,477.9 1494.0,484.8 1496.0,491.6 1498.0,497.8 1500.0,503.4 1502.0,508.8 1504.0,514.1 1506.0,519.6 1508.0,525.1 1510.0,530.5 1512.0,535.6 1514.0,540.3 1516.0,544.3 1518.0,547.8 1520.0,550.6 1522.0,553.0 1524.0,554.9 1526.0,556.4 1528.0,557.4 1530.0,558.0 1532.0,558.0 1534.0,557.6 1536.0,556.8 1538.0,555.5 1540.0,553.9 1542.0,551.9 1544.0,549.7 1546.0,547.3 1548.0,544.7 1550.0,542.1 1552.0,539.4 1554.0,536.7 1556.0,533.9 1558.0,531.1 1560.0,528.3 1562.0,525.6 1564.0,523.0 1566.0,520.7 1568.0,518.7 1570.0,517.0 1572.0,515.8 1574.0,515.1 1576.0,514.9 1578.0,515.2 1580.0,516.1 1582.0,517.6 1584.0,519.8 1586.0,522.5 1588.0,525.8 1590.0,529.6 1592.0,533.7 1594.0,538.3 1596.0,543.2 1598.0,548.4 1600.0,554.0 1602.0,560.0 1604.0,566.2 1606.0,572.4 1608.0,578.6 1610.0,584.6 1612.0,590.6 1614.0,596.7 1616.0,603.0 1618.0,609.5 1620.0,616.3 1622.0,623.1 1624.0,629.7 1626.0,636.0 1628.0,641.8 1630.0,647.2 1632.0,652.1 1634.0,656.8 1636.0,661.2 1638.0,665.2 1640.0,668.8 1642.0,672.0 1644.0,674.7 1646.0,676.9 1648.0,678.6 1650.0,679.7 1652.0,680.3 1654.0,680.3 1656.0,679.8 1658.0,678.7 1660.0,677.1 1662.0,674.9 1664.0,672.2 1666.0,669.0 1668.0,665.2 1670.0,660.8 1672.0,655.9 1674.0,650.1 1676.0,643.4 1678.0,635.4 1680.0,626.3 1682.0,616.0 1684.0,604.9 1686.0,593.0 1688.0,580.5 1690.0,567.7 1692.0,554.6 1694.0,541.5 1696.0,528.6 1698.0,516.3 1700.0,504.8 1702.0,494.2 1704.0,484.6 1706.0,475.9 1708.0,467.9 1710.0,460.4 1712.0,453.3 1714.0,446.0 1716.0,438.4 1718.0,431.2 1720.0,425.1 1722.0,420.8 1724.0,418.0 1726.0,416.0 1728.0,414.4 1730.0,413.0 1732.0,411.5 1734.0,410.2"/>
<polyline transform="translate(1.25,-1.25)" points="300.0,715.4 302.0,715.9 304.0,716.5 306.0,717.3 308.0,718.2 310.0,719.1 312.0,719.9 314.0,720.5 316.0,720.9 318.0,721.2 320.0,721.4 322.0,721.5 324.0,721.5 326.0,721.4 328.0,721.2 330.0,720.9 332.0,720.4 334.0,719.9 336.0,719.2 338.0,718.4 340.0,717.4 342.0,716.4 344.0,715.2 346.0,714.0 348.0,712.7 350.0,711.3 352.0,709.8 354.0,708.3 356.0,706.7 358.0,704.9 360.0,703.1 362.0,701.2 364.0,699.2 366.0,697.2 368.0,695.0 370.0,692.8 372.0,690.5 374.0,688.2 376.0,685.7 378.0,683.2 380.0,680.6 382.0,677.9 384.0,675.1 386.0,672.2 388.0,669.2 390.0,666.1 392.0,662.9 394.0,659.6 396.0,656.2 398.0,652.7 400.0,649.1 402.0,645.5 404.0,641.9 406.0,638.1 408.0,634.3 410.0,630.4 412.0,626.4 414.0,622.3 416.0,618.2 418.0,614.0 420.0,609.7 422.0,605.2 424.0,600.7 426.0,596.0 428.0,591.2 430.0,586.4 432.0,581.7 434.0,577.1 436.0,572.7 438.0,568.5 440.0,564.8 442.0,561.1 444.0,557.3 446.0,553.2 448.0,548.8 450.0,544.3 452.0,539.6 454.0,535.0 456.0,530.4 458.0,525.7 460.0,521.0 462.0,516.3 464.0,511.6 466.0,507.0 468.0,502.4 470.0,497.9 472.0,493.5 474.0,489.1 476.0,484.8 478.0,480.4 480.0,476.0 482.0,471.7 484.0,467.4 486.0,463.3 488.0,459.4 490.0,455.6 492.0,452.0 494.0,448.6 496.0,445.3 498.0,442.2 500.0,439.3 502.0,436.5 504.0,433.9 506.0,431.4 508.0,429.0 510.0,426.8 512.0,424.7 514.0,422.7 516.0,420.8 518.0,419.1 520.0,417.4 522.0,415.9 524.0,414.5 526.0,413.3 528.0,412.1 530.0,411.2 532.0,410.3 534.0,409.7 536.0,409.2 538.0,408.9 540.0,408.8 542.0,408.8 544.0,409.0 546.0,409.3 548.0,409.8 550.0,410.5 552.0,411.3 554.0,412.2 556.0,413.4 558.0,414.7 560.0,416.1 562.0,417.7 564.0,419.4 566.0,421.3 568.0,423.2 570.0,425.3 572.0,427.4 574.0,429.6 576.0,431.8 578.0,434.1 580.0,436.4 582.0,438.8 584.0,441.1 586.0,443.5 588.0,446.0 590.0,448.4 592.0,450.9 594.0,453.4 596.0,455.9 598.0,458.4 600.0,461.0 602.0,463.6 604.0,466.2 606.0,468.7 608.0,471.2 610.0,473.6 612.0,476.0 614.0,478.2 616.0,480.4 618.0,482.4 620.0,484.3 622.0,486.0 624.0,487.5 626.0,488.9 628.0,490.2 630.0,491.3 632.0,492.2 634.0,493.0 636.0,493.6 638.0,494.2 640.0,494.6 642.0,494.9 644.0,495.2 646.0,495.3 648.0,495.5 650.0,495.5 652.0,495.5 654.0,495.2 656.0,494.8 658.0,494.1 660.0,493.2 662.0,492.0 664.0,490.6 666.0,489.1 668.0,487.5 670.0,485.8 672.0,484.1 674.0,482.3 676.0,480.5 678.0,478.7 680.0,476.9 682.0,475.1 684.0,473.3 686.0,471.6 688.0,469.8 690.0,468.2 692.0,466.6 694.0,465.0 696.0,463.6 698.0,462.3 700.0,461.0 702.0,459.9 704.0,459.0 706.0,458.2 708.0,457.6 710.0,457.2 712.0,457.0 714.0,457.1 716.0,457.3 718.0,457.8 720.0,458.6 722.0,459.5 724.0,460.6 726.0,461.9 728.0,463.4 730.0,465.0 732.0,466.7 734.0,468.4 736.0,470.3 738.0,472.3 740.0,474.4 742.0,476.7 744.0,479.2 746.0,481.8 748.0,484.5 750.0,487.4 752.0,490.3 754.0,493.4 756.0,496.5 758.0,499.8 760.0,503.2 762.0,506.7 764.0,510.2 766.0,513.7 768.0,517.1 770.0,520.3 772.0,523.5 774.0,526.7 776.0,529.9 778.0,533.2 780.0,536.6 782.0,539.9 784.0,543.2 786.0,546.3 788.0,549.2 790.0,552.0 792.0,554.8 794.0,557.6 796.0,560.6 798.0,563.8 800.0,567.0 802.0,570.2 804.0,573.3 806.0,576.2 808.0,578.9 810.0,581.4 812.0,583.9 814.0,586.4 816.0,589.0 818.0,591.7 820.0,594.6 822.0,597.5 824.0,600.5 826.0,603.5 828.0,606.5 830.0,609.6 832.0,612.7 834.0,616.0 836.0,619.3 838.0,622.8 840.0,626.3 842.0,629.8 844.0,633.2 846.0,636.5 848.0,639.7 850.0,642.9 852.0,646.2 854.0,649.8 856.0,653.9 858.0,658.2 860.0,662.7 862.0,666.9 864.0,670.7 866.0,674.3 868.0,678.0 870.0,681.8 872.0,686.1 874.0,690.5 876.0,694.9 878.0,699.2 880.0,703.3 882.0,707.2 884.0,711.1 886.0,714.8 888.0,718.2 890.0,721.5 892.0,724.4 894.0,727.0 896.0,729.2 898.0,730.9 900.0,732.2 902.0,733.1 904.0,733.4 906.0,733.2 908.0,732.4 910.0,731.3 912.0,729.7 914.0,727.8 916.0,725.5 918.0,723.0 920.0,720.1 922.0,716.9 924.0,713.2 926.0,709.0 928.0,704.4 930.0,699.3 932.0,694.0 934.0,688.2 936.0,681.9 938.0,674.8 940.0,666.9 942.0,658.3 944.0,649.0 946.0,639.5 948.0,630.0 950.0,620.9 952.0,612.5 954.0,604.7 956.0,597.2 958.0,590.3 960.0,584.1 962.0,577.7 964.0,570.0 966.0,560.8 968.0,551.1 970.0,541.7 972.0,533.1 974.0,525.5 976.0,518.8 978.0,512.5 980.0,506.5 982.0,500.6 984.0,494.7 986.0,488.6 988.0,482.7 990.0,477.1 992.0,471.9 994.0,467.5 996.0,464.0 998.0,461.3 1000.0,459.2 1002.0,457.4 1004.0,455.6 1006.0,453.7 1008.0,452.0 1010.0,450.5 1012.0,449.3 1014.0,448.6 1016.0,448.1 1018.0,448.1 1020.0,448.3 1022.0,448.8 1024.0,449.5 1026.0,450.4 1028.0,451.4 1030.0,452.4 1032.0,453.6 1034.0,454.9 1036.0,456.2 1038.0,457.7 1040.0,459.2 1042.0,460.9 1044.0,462.6 1046.0,464.4 1048.0,466.2 1050.0,468.1 1052.0,469.9 1054.0,471.8 1056.0,473.5 1058.0,475.3 1060.0,477.0 1062.0,478.6 1064.0,480.1 1066.0,481.5 1068.0,482.8 1070.0,483.9 1072.0,484.9 1074.0,485.6 1076.0,486.2 1078.0,486.5 1080.0,486.7 1082.0,486.7 1084.0,486.4 1086.0,486.0 1088.0,485.4 1090.0,484.6 1092.0,483.6 1094.0,482.4 1096.0,481.1 1098.0,479.6 1100.0,478.1 1102.0,476.5 1104.0,474.9 1106.0,473.2 1108.0,471.4 1110.0,469.5 1112.0,467.5 1114.0,465.4 1116.0,463.2 1118.0,461.0 1120.0,458.7 1122.0,456.4 1124.0,454.0 1126.0,451.7 1128.0,449.3 1130.0,447.1 1132.0,444.9 1134.0,442.7 1136.0,440.7 1138.0,438.8 1140.0,436.8 1142.0,434.8 1144.0,432.8 1146.0,430.6 1148.0,428.3 1150.0,425.9 1152.0,423.5 1154.0,421.2 1156.0,419.2 1158.0,417.4 1160.0,416.0 1162.0,414.8 1164.0,413.8 1166.0,412.9 1168.0,412.1 1170.0,411.5 1172.0,410.9 1174.0,410.5 1176.0,410.3 1178.0,410.3 1180.0,410.5 1182.0,411.0 1184.0,411.6 1186.0,412.5 1188.0,413.6 1190.0,414.8 1192.0,416.2 1194.0,417.8 1196.0,419.4 1198.0,421.1 1200.0,422.9 1202.0,424.7 1204.0,426.6 1206.0,428.7 1208.0,431.0 1210.0,433.6 1212.0,436.4 1214.0,439.3 1216.0,442.3 1218.0,445.1 1220.0,447.7 1222.0,450.3 1224.0,453.0 1226.0,455.8 1228.0,458.7 1230.0,461.9 1232.0,465.2 1234.0,468.7 1236.0,472.3 1238.0,476.0 1240.0,479.5 1242.0,482.8 1244.0,486.0 1246.0,489.3 1248.0,492.6 1250.0,496.2 1252.0,499.8 1254.0,503.3 1256.0,506.6 1258.0,509.9 1260.0,513.1 1262.0,516.4 1264.0,519.8 1266.0,523.4 1268.0,527.0 1270.0,530.6 1272.0,534.3 1274.0,537.9 1276.0,541.5 1278.0,545.1 1280.0,548.7 1282.0,552.3 1284.0,555.8 1286.0,559.4 1288.0,563.0 1290.0,566.8 1292.0,570.7 1294.0,574.7 1296.0,578.8 1298.0,582.8 1300.0,586.8 1302.0,590.7 1304.0,594.7 1306.0,598.7 1308.0,602.7 1310.0,606.8 1312.0,610.8 1314.0,614.8 1316.0,618.9 1318.0,623.3 1320.0,628.1 1322.0,633.6 1324.0,639.5 1326.0,645.3 1328.0,650.7 1330.0,655.7 1332.0,660.4 1334.0,665.0 1336.0,669.8 1338.0,674.6 1340.0,679.5 1342.0,684.4 1344.0,689.3 1346.0,694.1 1348.0,698.6 1350.0,702.9 1352.0,707.0 1354.0,711.0 1356.0,714.8 1358.0,718.6 1360.0,722.2 1362.0,725.4 1364.0,728.1 1366.0,730.4 1368.0,732.1 1370.0,733.3 1372.0,734.0 1374.0,734.3 1376.0,734.0 1378.0,733.0 1380.0,731.3 1382.0,728.7 1384.0,725.2 1386.0,720.5 1388.0,714.6 1390.0,707.4 1392.0,699.4 1394.0,691.2 1396.0,683.0 1398.0,674.7 1400.0,666.4 1402.0,657.8 1404.0,648.9 1406.0,638.9 1408.0,627.5 1410.0,615.9 1412.0,603.7 1414.0,589.5 1416.0,574.5 1418.0,559.9 1420.0,545.6 1422.0,531.4 1424.0,517.4 1426.0,504.1 1428.0,492.2 1430.0,481.2 1432.0,470.4 1434.0,460.1 1436.0,451.0 1438.0,443.1 1440.0,435.9 1442.0,429.4 1444.0,423.4 1446.0,418.2 1448.0,413.9 1450.0,410.8 1452.0,408.7 1454.0,407.4 1456.0,406.7 1458.0,406.6 1460.0,406.9 1462.0,407.8 1464.0,409.3 1466.0,411.5 1468.0,414.5 1470.0,418.1 1472.0,422.2 1474.0,426.6 1476.0,431.2 1478.0,435.9 1480.0,440.7 1482.0,445.8 1484.0,451.4 1486.0,457.6 1488.0,464.2 1490.0,470.9 1492.0,477.9 1494.0,484.8 1496.0,491.6 1498.0,497.8 1500.0,503.4 1502.0,508.8 1504.0,514.1 1506.0,519.6 1508.0,525.1 1510.0,530.5 1512.0,535.6 1514.0,540.3 1516.0,544.3 1518.0,547.8 1520.0,550.6 1522.0,553.0 1524.0,554.9 1526.0,556.4 1528.0,557.4 1530.0,558.0 1532.0,558.0 1534.0,557.6 1536.0,556.8 1538.0,555.5 1540.0,553.9 1542.0,551.9 1544.0,549.7 1546.0,547.3 1548.0,544.7 1550.0,542.1 1552.0,539.4 1554.0,536.7 1556.0,533.9 1558.0,531.1 1560.0,528.3 1562.0,525.6 1564.0,523.0 1566.0,520.7 1568.0,518.7 1570.0,517.0 1572.0,515.8 1574.0,515.1 1576.0,514.9 1578.0,515.2 1580.0,516.1 1582.0,517.6 1584.0,519.8 1586.0,522.5 1588.0,525.8 1590.0,529.6 1592.0,533.7 1594.0,538.3 1596.0,543.2 1598.0,548.4 1600.0,554.0 1602.0,560.0 1604.0,566.2 1606.0,572.4 1608.0,578.6 1610.0,584.6 1612.0,590.6 1614.0,596.7 1616.0,603.0 1618.0,609.5 1620.0,616.3 1622.0,623.1 1624.0,629.7 1626.0,636.0 1628.0,641.8 1630.0,647.2 1632.0,652.1 1634.0,656.8 1636.0,661.2 1638.0,665.2 1640.0,668.8 1642.0,672.0 1644.0,674.7 1646.0,676.9 1648.0,678.6 1650.0,679.7 1652.0,680.3 1654.0,680.3 1656.0,679.8 1658.0,678.7 1660.0,677.1 1662.0,674.9 1664.0,672.2 1666.0,669.0 1668.0,665.2 1670.0,660.8 1672.0,655.9 1674.0,650.1 1676.0,643.4 1678.0,635.4 1680.0,626.3 1682.0,616.0 1684.0,604.9 1686.0,593.0 1688.0,580.5 1690.0,567.7 1692.0,554.6 1694.0,541.5 1696.0,528.6 1698.0,516.3 1700.0,504.8 1702.0,494.2 1704.0,484.6 1706.0,475.9 1708.0,467.9 1710.0,460.4 1712.0,453.3 1714.0,446.0 1716.0,438.4 1718.0,431.2 1720.0,425.1 1722.0,420.8 1724.0,418.0 1726.0,416.0 1728.0,414.4 1730.0,413.0 1732.0,411.5 1734.0,410.2"/>
<polyline transform="translate(-1.25,1.25)" points="300.0,715.4 302.0,715.9 304.0,716.5 306.0,717.3 308.0,718.2 310.0,719.1 312.0,719.9 314.0,720.5 316.0,720.9 318.0,721.2 320.0,721.4 322.0,721.5 324.0,721.5 326.0,721.4 328.0,721.2 330.0,720.9 332.0,720.4 334.0,719.9 336.0,719.2 338.0,718.4 340.0,717.4 342.0,716.4 344.0,715.2 346.0,714.0 348.0,712.7 350.0,711.3 352.0,709.8 354.0,708.3 356.0,706.7 358.0,704.9 360.0,703.1 362.0,701.2 364.0,699.2 366.0,697.2 368.0,695.0 370.0,692.8 372.0,690.5 374.0,688.2 376.0,685.7 378.0,683.2 380.0,680.6 382.0,677.9 384.0,675.1 386.0,672.2 388.0,669.2 390.0,666.1 392.0,662.9 394.0,659.6 396.0,656.2 398.0,652.7 400.0,649.1 402.0,645.5 404.0,641.9 406.0,638.1 408.0,634.3 410.0,630.4 412.0,626.4 414.0,622.3 416.0,618.2 418.0,614.0 420.0,609.7 422.0,605.2 424.0,600.7 426.0,596.0 428.0,591.2 430.0,586.4 432.0,581.7 434.0,577.1 436.0,572.7 438.0,568.5 440.0,564.8 442.0,561.1 444.0,557.3 446.0,553.2 448.0,548.8 450.0,544.3 452.0,539.6 454.0,535.0 456.0,530.4 458.0,525.7 460.0,521.0 462.0,516.3 464.0,511.6 466.0,507.0 468.0,502.4 470.0,497.9 472.0,493.5 474.0,489.1 476.0,484.8 478.0,480.4 480.0,476.0 482.0,471.7 484.0,467.4 486.0,463.3 488.0,459.4 490.0,455.6 492.0,452.0 494.0,448.6 496.0,445.3 498.0,442.2 500.0,439.3 502.0,436.5 504.0,433.9 506.0,431.4 508.0,429.0 510.0,426.8 512.0,424.7 514.0,422.7 516.0,420.8 518.0,419.1 520.0,417.4 522.0,415.9 524.0,414.5 526.0,413.3 528.0,412.1 530.0,411.2 532.0,410.3 534.0,409.7 536.0,409.2 538.0,408.9 540.0,408.8 542.0,408.8 544.0,409.0 546.0,409.3 548.0,409.8 550.0,410.5 552.0,411.3 554.0,412.2 556.0,413.4 558.0,414.7 560.0,416.1 562.0,417.7 564.0,419.4 566.0,421.3 568.0,423.2 570.0,425.3 572.0,427.4 574.0,429.6 576.0,431.8 578.0,434.1 580.0,436.4 582.0,438.8 584.0,441.1 586.0,443.5 588.0,446.0 590.0,448.4 592.0,450.9 594.0,453.4 596.0,455.9 598.0,458.4 600.0,461.0 602.0,463.6 604.0,466.2 606.0,468.7 608.0,471.2 610.0,473.6 612.0,476.0 614.0,478.2 616.0,480.4 618.0,482.4 620.0,484.3 622.0,486.0 624.0,487.5 626.0,488.9 628.0,490.2 630.0,491.3 632.0,492.2 634.0,493.0 636.0,493.6 638.0,494.2 640.0,494.6 642.0,494.9 644.0,495.2 646.0,495.3 648.0,495.5 650.0,495.5 652.0,495.5 654.0,495.2 656.0,494.8 658.0,494.1 660.0,493.2 662.0,492.0 664.0,490.6 666.0,489.1 668.0,487.5 670.0,485.8 672.0,484.1 674.0,482.3 676.0,480.5 678.0,478.7 680.0,476.9 682.0,475.1 684.0,473.3 686.0,471.6 688.0,469.8 690.0,468.2 692.0,466.6 694.0,465.0 696.0,463.6 698.0,462.3 700.0,461.0 702.0,459.9 704.0,459.0 706.0,458.2 708.0,457.6 710.0,457.2 712.0,457.0 714.0,457.1 716.0,457.3 718.0,457.8 720.0,458.6 722.0,459.5 724.0,460.6 726.0,461.9 728.0,463.4 730.0,465.0 732.0,466.7 734.0,468.4 736.0,470.3 738.0,472.3 740.0,474.4 742.0,476.7 744.0,479.2 746.0,481.8 748.0,484.5 750.0,487.4 752.0,490.3 754.0,493.4 756.0,496.5 758.0,499.8 760.0,503.2 762.0,506.7 764.0,510.2 766.0,513.7 768.0,517.1 770.0,520.3 772.0,523.5 774.0,526.7 776.0,529.9 778.0,533.2 780.0,536.6 782.0,539.9 784.0,543.2 786.0,546.3 788.0,549.2 790.0,552.0 792.0,554.8 794.0,557.6 796.0,560.6 798.0,563.8 800.0,567.0 802.0,570.2 804.0,573.3 806.0,576.2 808.0,578.9 810.0,581.4 812.0,583.9 814.0,586.4 816.0,589.0 818.0,591.7 820.0,594.6 822.0,597.5 824.0,600.5 826.0,603.5 828.0,606.5 830.0,609.6 832.0,612.7 834.0,616.0 836.0,619.3 838.0,622.8 840.0,626.3 842.0,629.8 844.0,633.2 846.0,636.5 848.0,639.7 850.0,642.9 852.0,646.2 854.0,649.8 856.0,653.9 858.0,658.2 860.0,662.7 862.0,666.9 864.0,670.7 866.0,674.3 868.0,678.0 870.0,681.8 872.0,686.1 874.0,690.5 876.0,694.9 878.0,699.2 880.0,703.3 882.0,707.2 884.0,711.1 886.0,714.8 888.0,718.2 890.0,721.5 892.0,724.4 894.0,727.0 896.0,729.2 898.0,730.9 900.0,732.2 902.0,733.1 904.0,733.4 906.0,733.2 908.0,732.4 910.0,731.3 912.0,729.7 914.0,727.8 916.0,725.5 918.0,723.0 920.0,720.1 922.0,716.9 924.0,713.2 926.0,709.0 928.0,704.4 930.0,699.3 932.0,694.0 934.0,688.2 936.0,681.9 938.0,674.8 940.0,666.9 942.0,658.3 944.0,649.0 946.0,639.5 948.0,630.0 950.0,620.9 952.0,612.5 954.0,604.7 956.0,597.2 958.0,590.3 960.0,584.1 962.0,577.7 964.0,570.0 966.0,560.8 968.0,551.1 970.0,541.7 972.0,533.1 974.0,525.5 976.0,518.8 978.0,512.5 980.0,506.5 982.0,500.6 984.0,494.7 986.0,488.6 988.0,482.7 990.0,477.1 992.0,471.9 994.0,467.5 996.0,464.0 998.0,461.3 1000.0,459.2 1002.0,457.4 1004.0,455.6 1006.0,453.7 1008.0,452.0 1010.0,450.5 1012.0,449.3 1014.0,448.6 1016.0,448.1 1018.0,448.1 1020.0,448.3 1022.0,448.8 1024.0,449.5 1026.0,450.4 1028.0,451.4 1030.0,452.4 1032.0,453.6 1034.0,454.9 1036.0,456.2 1038.0,457.7 1040.0,459.2 1042.0,460.9 1044.0,462.6 1046.0,464.4 1048.0,466.2 1050.0,468.1 1052.0,469.9 1054.0,471.8 1056.0,473.5 1058.0,475.3 1060.0,477.0 1062.0,478.6 1064.0,480.1 1066.0,481.5 1068.0,482.8 1070.0,483.9 1072.0,484.9 1074.0,485.6 1076.0,486.2 1078.0,486.5 1080.0,486.7 1082.0,486.7 1084.0,486.4 1086.0,486.0 1088.0,485.4 1090.0,484.6 1092.0,483.6 1094.0,482.4 1096.0,481.1 1098.0,479.6 1100.0,478.1 1102.0,476.5 1104.0,474.9 1106.0,473.2 1108.0,471.4 1110.0,469.5 1112.0,467.5 1114.0,465.4 1116.0,463.2 1118.0,461.0 1120.0,458.7 1122.0,456.4 1124.0,454.0 1126.0,451.7 1128.0,449.3 1130.0,447.1 1132.0,444.9 1134.0,442.7 1136.0,440.7 1138.0,438.8 1140.0,436.8 1142.0,434.8 1144.0,432.8 1146.0,430.6 1148.0,428.3 1150.0,425.9 1152.0,423.5 1154.0,421.2 1156.0,419.2 1158.0,417.4 1160.0,416.0 1162.0,414.8 1164.0,413.8 1166.0,412.9 1168.0,412.1 1170.0,411.5 1172.0,410.9 1174.0,410.5 1176.0,410.3 1178.0,410.3 1180.0,410.5 1182.0,411.0 1184.0,411.6 1186.0,412.5 1188.0,413.6 1190.0,414.8 1192.0,416.2 1194.0,417.8 1196.0,419.4 1198.0,421.1 1200.0,422.9 1202.0,424.7 1204.0,426.6 1206.0,428.7 1208.0,431.0 1210.0,433.6 1212.0,436.4 1214.0,439.3 1216.0,442.3 1218.0,445.1 1220.0,447.7 1222.0,450.3 1224.0,453.0 1226.0,455.8 1228.0,458.7 1230.0,461.9 1232.0,465.2 1234.0,468.7 1236.0,472.3 1238.0,476.0 1240.0,479.5 1242.0,482.8 1244.0,486.0 1246.0,489.3 1248.0,492.6 1250.0,496.2 1252.0,499.8 1254.0,503.3 1256.0,506.6 1258.0,509.9 1260.0,513.1 1262.0,516.4 1264.0,519.8 1266.0,523.4 1268.0,527.0 1270.0,530.6 1272.0,534.3 1274.0,537.9 1276.0,541.5 1278.0,545.1 1280.0,548.7 1282.0,552.3 1284.0,555.8 1286.0,559.4 1288.0,563.0 1290.0,566.8 1292.0,570.7 1294.0,574.7 1296.0,578.8 1298.0,582.8 1300.0,586.8 1302.0,590.7 1304.0,594.7 1306.0,598.7 1308.0,602.7 1310.0,606.8 1312.0,610.8 1314.0,614.8 1316.0,618.9 1318.0,623.3 1320.0,628.1 1322.0,633.6 1324.0,639.5 1326.0,645.3 1328.0,650.7 1330.0,655.7 1332.0,660.4 1334.0,665.0 1336.0,669.8 1338.0,674.6 1340.0,679.5 1342.0,684.4 1344.0,689.3 1346.0,694.1 1348.0,698.6 1350.0,702.9 1352.0,707.0 1354.0,711.0 1356.0,714.8 1358.0,718.6 1360.0,722.2 1362.0,725.4 1364.0,728.1 1366.0,730.4 1368.0,732.1 1370.0,733.3 1372.0,734.0 1374.0,734.3 1376.0,734.0 1378.0,733.0 1380.0,731.3 1382.0,728.7 1384.0,725.2 1386.0,720.5 1388.0,714.6 1390.0,707.4 1392.0,699.4 1394.0,691.2 1396.0,683.0 1398.0,674.7 1400.0,666.4 1402.0,657.8 1404.0,648.9 1406.0,638.9 1408.0,627.5 1410.0,615.9 1412.0,603.7 1414.0,589.5 1416.0,574.5 1418.0,559.9 1420.0,545.6 1422.0,531.4 1424.0,517.4 1426.0,504.1 1428.0,492.2 1430.0,481.2 1432.0,470.4 1434.0,460.1 1436.0,451.0 1438.0,443.1 1440.0,435.9 1442.0,429.4 1444.0,423.4 1446.0,418.2 1448.0,413.9 1450.0,410.8 1452.0,408.7 1454.0,407.4 1456.0,406.7 1458.0,406.6 1460.0,406.9 1462.0,407.8 1464.0,409.3 1466.0,411.5 1468.0,414.5 1470.0,418.1 1472.0,422.2 1474.0,426.6 1476.0,431.2 1478.0,435.9 1480.0,440.7 1482.0,445.8 1484.0,451.4 1486.0,457.6 1488.0,464.2 1490.0,470.9 1492.0,477.9 1494.0,484.8 1496.0,491.6 1498.0,497.8 1500.0,503.4 1502.0,508.8 1504.0,514.1 1506.0,519.6 1508.0,525.1 1510.0,530.5 1512.0,535.6 1514.0,540.3 1516.0,544.3 1518.0,547.8 1520.0,550.6 1522.0,553.0 1524.0,554.9 1526.0,556.4 1528.0,557.4 1530.0,558.0 1532.0,558.0 1534.0,557.6 1536.0,556.8 1538.0,555.5 1540.0,553.9 1542.0,551.9 1544.0,549.7 1546.0,547.3 1548.0,544.7 1550.0,542.1 1552.0,539.4 1554.0,536.7 1556.0,533.9 1558.0,531.1 1560.0,528.3 1562.0,525.6 1564.0,523.0 1566.0,520.7 1568.0,518.7 1570.0,517.0 1572.0,515.8 1574.0,515.1 1576.0,514.9 1578.0,515.2 1580.0,516.1 1582.0,517.6 1584.0,519.8 1586.0,522.5 1588.0,525.8 1590.0,529.6 1592.0,533.7 1594.0,538.3 1596.0,543.2 1598.0,548.4 1600.0,554.0 1602.0,560.0 1604.0,566.2 1606.0,572.4 1608.0,578.6 1610.0,584.6 1612.0,590.6 1614.0,596.7 1616.0,603.0 1618.0,609.5 1620.0,616.3 1622.0,623.1 1624.0,629.7 1626.0,636.0 1628.0,641.8 1630.0,647.2 1632.0,652.1 1634.0,656.8 1636.0,661.2 1638.0,665.2 1640.0,668.8 1642.0,672.0 1644.0,674.7 1646.0,676.9 1648.0,678.6 1650.0,679.7 1652.0,680.3 1654.0,680.3 1656.0,679.8 1658.0,678.7 1660.0,677.1 1662.0,674.9 1664.0,672.2 1666.0,669.0 1668.0,665.2 1670.0,660.8 1672.0,655.9 1674.0,650.1 1676.0,643.4 1678.0,635.4 1680.0,626.3 1682.0,616.0 1684.0,604.9 1686.0,593.0 1688.0,580.5 1690.0,567.7 1692.0,554.6 1694.0,541.5 1696.0,528.6 1698.0,516.3 1700.0,504.8 1702.0,494.2 1704.0,484.6 1706.0,475.9 1708.0,467.9 1710.0,460.4 1712.0,453.3 1714.0,446.0 1716.0,438.4 1718.0,431.2 1720.0,425.1 1722.0,420.8 1724.0,418.0 1726.0,416.0 1728.0,414.4 1730.0,413.0 1732.0,411.5 1734.0,410.2"/>
<polyline transform="translate(1.25,1.25)" points="300.0,715.4 302.0,715.9 304.0,716.5 306.0,717.3 308.0,718.2 310.0,719.1 312.0,719.9 314.0,720.5 316.0,720.9 318.0,721.2 320.0,721.4 322.0,721.5 324.0,721.5 326.0,721.4 328.0,721.2 330.0,720.9 332.0,720.4 334.0,719.9 336.0,719.2 338.0,718.4 340.0,717.4 342.0,716.4 344.0,715.2 346.0,714.0 348.0,712.7 350.0,711.3 352.0,709.8 354.0,708.3 356.0,706.7 358.0,704.9 360.0,703.1 362.0,701.2 364.0,699.2 366.0,697.2 368.0,695.0 370.0,692.8 372.0,690.5 374.0,688.2 376.0,685.7 378.0,683.2 380.0,680.6 382.0,677.9 384.0,675.1 386.0,672.2 388.0,669.2 390.0,666.1 392.0,662.9 394.0,659.6 396.0,656.2 398.0,652.7 400.0,649.1 402.0,645.5 404.0,641.9 406.0,638.1 408.0,634.3 410.0,630.4 412.0,626.4 414.0,622.3 416.0,618.2 418.0,614.0 420.0,609.7 422.0,605.2 424.0,600.7 426.0,596.0 428.0,591.2 430.0,586.4 432.0,581.7 434.0,577.1 436.0,572.7 438.0,568.5 440.0,564.8 442.0,561.1 444.0,557.3 446.0,553.2 448.0,548.8 450.0,544.3 452.0,539.6 454.0,535.0 456.0,530.4 458.0,525.7 460.0,521.0 462.0,516.3 464.0,511.6 466.0,507.0 468.0,502.4 470.0,497.9 472.0,493.5 474.0,489.1 476.0,484.8 478.0,480.4 480.0,476.0 482.0,471.7 484.0,467.4 486.0,463.3 488.0,459.4 490.0,455.6 492.0,452.0 494.0,448.6 496.0,445.3 498.0,442.2 500.0,439.3 502.0,436.5 504.0,433.9 506.0,431.4 508.0,429.0 510.0,426.8 512.0,424.7 514.0,422.7 516.0,420.8 518.0,419.1 520.0,417.4 522.0,415.9 524.0,414.5 526.0,413.3 528.0,412.1 530.0,411.2 532.0,410.3 534.0,409.7 536.0,409.2 538.0,408.9 540.0,408.8 542.0,408.8 544.0,409.0 546.0,409.3 548.0,409.8 550.0,410.5 552.0,411.3 554.0,412.2 556.0,413.4 558.0,414.7 560.0,416.1 562.0,417.7 564.0,419.4 566.0,421.3 568.0,423.2 570.0,425.3 572.0,427.4 574.0,429.6 576.0,431.8 578.0,434.1 580.0,436.4 582.0,438.8 584.0,441.1 586.0,443.5 588.0,446.0 590.0,448.4 592.0,450.9 594.0,453.4 596.0,455.9 598.0,458.4 600.0,461.0 602.0,463.6 604.0,466.2 606.0,468.7 608.0,471.2 610.0,473.6 612.0,476.0 614.0,478.2 616.0,480.4 618.0,482.4 620.0,484.3 622.0,486.0 624.0,487.5 626.0,488.9 628.0,490.2 630.0,491.3 632.0,492.2 634.0,493.0 636.0,493.6 638.0,494.2 640.0,494.6 642.0,494.9 644.0,495.2 646.0,495.3 648.0,495.5 650.0,495.5 652.0,495.5 654.0,495.2 656.0,494.8 658.0,494.1 660.0,493.2 662.0,492.0 664.0,490.6 666.0,489.1 668.0,487.5 670.0,485.8 672.0,484.1 674.0,482.3 676.0,480.5 678.0,478.7 680.0,476.9 682.0,475.1 684.0,473.3 686.0,471.6 688.0,469.8 690.0,468.2 692.0,466.6 694.0,465.0 696.0,463.6 698.0,462.3 700.0,461.0 702.0,459.9 704.0,459.0 706.0,458.2 708.0,457.6 710.0,457.2 712.0,457.0 714.0,457.1 716.0,457.3 718.0,457.8 720.0,458.6 722.0,459.5 724.0,460.6 726.0,461.9 728.0,463.4 730.0,465.0 732.0,466.7 734.0,468.4 736.0,470.3 738.0,472.3 740.0,474.4 742.0,476.7 744.0,479.2 746.0,481.8 748.0,484.5 750.0,487.4 752.0,490.3 754.0,493.4 756.0,496.5 758.0,499.8 760.0,503.2 762.0,506.7 764.0,510.2 766.0,513.7 768.0,517.1 770.0,520.3 772.0,523.5 774.0,526.7 776.0,529.9 778.0,533.2 780.0,536.6 782.0,539.9 784.0,543.2 786.0,546.3 788.0,549.2 790.0,552.0 792.0,554.8 794.0,557.6 796.0,560.6 798.0,563.8 800.0,567.0 802.0,570.2 804.0,573.3 806.0,576.2 808.0,578.9 810.0,581.4 812.0,583.9 814.0,586.4 816.0,589.0 818.0,591.7 820.0,594.6 822.0,597.5 824.0,600.5 826.0,603.5 828.0,606.5 830.0,609.6 832.0,612.7 834.0,616.0 836.0,619.3 838.0,622.8 840.0,626.3 842.0,629.8 844.0,633.2 846.0,636.5 848.0,639.7 850.0,642.9 852.0,646.2 854.0,649.8 856.0,653.9 858.0,658.2 860.0,662.7 862.0,666.9 864.0,670.7 866.0,674.3 868.0,678.0 870.0,681.8 872.0,686.1 874.0,690.5 876.0,694.9 878.0,699.2 880.0,703.3 882.0,707.2 884.0,711.1 886.0,714.8 888.0,718.2 890.0,721.5 892.0,724.4 894.0,727.0 896.0,729.2 898.0,730.9 900.0,732.2 902.0,733.1 904.0,733.4 906.0,733.2 908.0,732.4 910.0,731.3 912.0,729.7 914.0,727.8 916.0,725.5 918.0,723.0 920.0,720.1 922.0,716.9 924.0,713.2 926.0,709.0 928.0,704.4 930.0,699.3 932.0,694.0 934.0,688.2 936.0,681.9 938.0,674.8 940.0,666.9 942.0,658.3 944.0,649.0 946.0,639.5 948.0,630.0 950.0,620.9 952.0,612.5 954.0,604.7 956.0,597.2 958.0,590.3 960.0,584.1 962.0,577.7 964.0,570.0 966.0,560.8 968.0,551.1 970.0,541.7 972.0,533.1 974.0,525.5 976.0,518.8 978.0,512.5 980.0,506.5 982.0,500.6 984.0,494.7 986.0,488.6 988.0,482.7 990.0,477.1 992.0,471.9 994.0,467.5 996.0,464.0 998.0,461.3 1000.0,459.2 1002.0,457.4 1004.0,455.6 1006.0,453.7 1008.0,452.0 1010.0,450.5 1012.0,449.3 1014.0,448.6 1016.0,448.1 1018.0,448.1 1020.0,448.3 1022.0,448.8 1024.0,449.5 1026.0,450.4 1028.0,451.4 1030.0,452.4 1032.0,453.6 1034.0,454.9 1036.0,456.2 1038.0,457.7 1040.0,459.2 1042.0,460.9 1044.0,462.6 1046.0,464.4 1048.0,466.2 1050.0,468.1 1052.0,469.9 1054.0,471.8 1056.0,473.5 1058.0,475.3 1060.0,477.0 1062.0,478.6 1064.0,480.1 1066.0,481.5 1068.0,482.8 1070.0,483.9 1072.0,484.9 1074.0,485.6 1076.0,486.2 1078.0,486.5 1080.0,486.7 1082.0,486.7 1084.0,486.4 1086.0,486.0 1088.0,485.4 1090.0,484.6 1092.0,483.6 1094.0,482.4 1096.0,481.1 1098.0,479.6 1100.0,478.1 1102.0,476.5 1104.0,474.9 1106.0,473.2 1108.0,471.4 1110.0,469.5 1112.0,467.5 1114.0,465.4 1116.0,463.2 1118.0,461.0 1120.0,458.7 1122.0,456.4 1124.0,454.0 1126.0,451.7 1128.0,449.3 1130.0,447.1 1132.0,444.9 1134.0,442.7 1136.0,440.7 1138.0,438.8 1140.0,436.8 1142.0,434.8 1144.0,432.8 1146.0,430.6 1148.0,428.3 1150.0,425.9 1152.0,423.5 1154.0,421.2 1156.0,419.2 1158.0,417.4 1160.0,416.0 1162.0,414.8 1164.0,413.8 1166.0,412.9 1168.0,412.1 1170.0,411.5 1172.0,410.9 1174.0,410.5 1176.0,410.3 1178.0,410.3 1180.0,410.5 1182.0,411.0 1184.0,411.6 1186.0,412.5 1188.0,413.6 1190.0,414.8 1192.0,416.2 1194.0,417.8 1196.0,419.4 1198.0,421.1 1200.0,422.9 1202.0,424.7 1204.0,426.6 1206.0,428.7 1208.0,431.0 1210.0,433.6 1212.0,436.4 1214.0,439.3 1216.0,442.3 1218.0,445.1 1220.0,447.7 1222.0,450.3 1224.0,453.0 1226.0,455.8 1228.0,458.7 1230.0,461.9 1232.0,465.2 1234.0,468.7 1236.0,472.3 1238.0,476.0 1240.0,479.5 1242.0,482.8 1244.0,486.0 1246.0,489.3 1248.0,492.6 1250.0,496.2 1252.0,499.8 1254.0,503.3 1256.0,506.6 1258.0,509.9 1260.0,513.1 1262.0,516.4 1264.0,519.8 1266.0,523.4 1268.0,527.0 1270.0,530.6 1272.0,534.3 1274.0,537.9 1276.0,541.5 1278.0,545.1 1280.0,548.7 1282.0,552.3 1284.0,555.8 1286.0,559.4 1288.0,563.0 1290.0,566.8 1292.0,570.7 1294.0,574.7 1296.0,578.8 1298.0,582.8 1300.0,586.8 1302.0,590.7 1304.0,594.7 1306.0,598.7 1308.0,602.7 1310.0,606.8 1312.0,610.8 1314.0,614.8 1316.0,618.9 1318.0,623.3 1320.0,628.1 1322.0,633.6 1324.0,639.5 1326.0,645.3 1328.0,650.7 1330.0,655.7 1332.0,660.4 1334.0,665.0 1336.0,669.8 1338.0,674.6 1340.0,679.5 1342.0,684.4 1344.0,689.3 1346.0,694.1 1348.0,698.6 1350.0,702.9 1352.0,707.0 1354.0,711.0 1356.0,714.8 1358.0,718.6 1360.0,722.2 1362.0,725.4 1364.0,728.1 1366.0,730.4 1368.0,732.1 1370.0,733.3 1372.0,734.0 1374.0,734.3 1376.0,734.0 1378.0,733.0 1380.0,731.3 1382.0,728.7 1384.0,725.2 1386.0,720.5 1388.0,714.6 1390.0,707.4 1392.0,699.4 1394.0,691.2 1396.0,683.0 1398.0,674.7 1400.0,666.4 1402.0,657.8 1404.0,648.9 1406.0,638.9 1408.0,627.5 1410.0,615.9 1412.0,603.7 1414.0,589.5 1416.0,574.5 1418.0,559.9 1420.0,545.6 1422.0,531.4 1424.0,517.4 1426.0,504.1 1428.0,492.2 1430.0,481.2 1432.0,470.4 1434.0,460.1 1436.0,451.0 1438.0,443.1 1440.0,435.9 1442.0,429.4 1444.0,423.4 1446.0,418.2 1448.0,413.9 1450.0,410.8 1452.0,408.7 1454.0,407.4 1456.0,406.7 1458.0,406.6 1460.0,406.9 1462.0,407.8 1464.0,409.3 1466.0,411.5 1468.0,414.5 1470.0,418.1 1472.0,422.2 1474.0,426.6 1476.0,431.2 1478.0,435.9 1480.0,440.7 1482.0,445.8 1484.0,451.4 1486.0,457.6 1488.0,464.2 1490.0,470.9 1492.0,477.9 1494.0,484.8 1496.0,491.6 1498.0,497.8 1500.0,503.4 1502.0,508.8 1504.0,514.1 1506.0,519.6 1508.0,525.1 1510.0,530.5 1512.0,535.6 1514.0,540.3 1516.0,544.3 1518.0,547.8 1520.0,550.6 1522.0,553.0 1524.0,554.9 1526.0,556.4 1528.0,557.4 1530.0,558.0 1532.0,558.0 1534.0,557.6 1536.0,556.8 1538.0,555.5 1540.0,553.9 1542.0,551.9 1544.0,549.7 1546.0,547.3 1548.0,544.7 1550.0,542.1 1552.0,539.4 1554.0,536.7 1556.0,533.9 1558.0,531.1 1560.0,528.3 1562.0,525.6 1564.0,523.0 1566.0,520.7 1568.0,518.7 1570.0,517.0 1572.0,515.8 1574.0,515.1 1576.0,514.9 1578.0,515.2 1580.0,516.1 1582.0,517.6 1584.0,519.8 1586.0,522.5 1588.0,525.8 1590.0,529.6 1592.0,533.7 1594.0,538.3 1596.0,543.2 1598.0,548.4 1600.0,554.0 1602.0,560.0 1604.0,566.2 1606.0,572.4 1608.0,578.6 1610.0,584.6 1612.0,590.6 1614.0,596.7 1616.0,603.0 1618.0,609.5 1620.0,616.3 1622.0,623.1 1624.0,629.7 1626.0,636.0 1628.0,641.8 1630.0,647.2 1632.0,652.1 1634.0,656.8 1636.0,661.2 1638.0,665.2 1640.0,668.8 1642.0,672.0 1644.0,674.7 1646.0,676.9 1648.0,678.6 1650.0,679.7 1652.0,680.3 1654.0,680.3 1656.0,679.8 1658.0,678.7 1660.0,677.1 1662.0,674.9 1664.0,672.2 1666.0,669.0 1668.0,665.2 1670.0,660.8 1672.0,655.9 1674.0,650.1 1676.0,643.4 1678.0,635.4 1680.0,626.3 1682.0,616.0 1684.0,604.9 1686.0,593.0 1688.0,580.5 1690.0,567.7 1692.0,554.6 1694.0,541.5 1696.0,528.6 1698.0,516.3 1700.0,504.8 1702.0,494.2 1704.0,484.6 1706.0,475.9 1708.0,467.9 1710.0,460.4 1712.0,453.3 1714.0,446.0 1716.0,438.4 1718.0,431.2 1720.0,425.1 1722.0,420.8 1724.0,418.0 1726.0,416.0 1728.0,414.4 1730.0,413.0 1732.0,411.5 1734.0,410.2"/>
</g>
<g clip-path="url(#c2)" fill="none" stroke="#77933C" stroke-width="3.50" stroke-linejoin="round" stroke-linecap="round" shape-rendering="crispEdges">
<polyline transform="translate(-1.25,-1.25)" points="300.0,769.9 302.0,769.8 304.0,769.8 306.0,769.7 308.0,769.7 310.0,769.6 312.0,769.6 314.0,769.5 316.0,769.5 318.0,769.4 320.0,769.4 322.0,769.3 324.0,769.3 326.0,769.2 328.0,769.2 330.0,769.2 332.0,769.1 334.0,769.1 336.0,769.1 338.0,769.1 340.0,769.0 342.0,769.0 344.0,769.0 346.0,769.0 348.0,769.0 350.0,769.0 352.0,769.1 354.0,769.1 356.0,769.1 358.0,769.2 360.0,769.2 362.0,769.2 364.0,769.3 366.0,769.3 368.0,769.4 370.0,769.5 372.0,769.6 374.0,769.6 376.0,769.7 378.0,769.8 380.0,769.9 382.0,770.0 384.0,770.1 386.0,770.2 388.0,770.4 390.0,770.5 392.0,770.6 394.0,770.7 396.0,770.9 398.0,771.0 400.0,771.2 402.0,771.3 404.0,771.5 406.0,771.7 408.0,771.8 410.0,772.0 412.0,772.2 414.0,772.4 416.0,772.6 418.0,772.7 420.0,772.9 422.0,773.1 424.0,773.4 426.0,773.6 428.0,773.8 430.0,774.0 432.0,774.2 434.0,774.5 436.0,774.7 438.0,774.9 440.0,775.2 442.0,775.4 444.0,775.7 446.0,775.9 448.0,776.2 450.0,776.5 452.0,776.7 454.0,777.0 456.0,777.3 458.0,777.6 460.0,777.9 462.0,778.2 464.0,778.5 466.0,778.8 468.0,779.1 470.0,779.4 472.0,779.7 474.0,780.1 476.0,780.4 478.0,780.7 480.0,781.1 482.0,781.4 484.0,781.8 486.0,782.2 488.0,782.5 490.0,782.9 492.0,783.3 494.0,783.7 496.0,784.1 498.0,784.5 500.0,784.9 502.0,785.3 504.0,785.7 506.0,786.2 508.0,786.6 510.0,787.0 512.0,787.5 514.0,788.0 516.0,788.4 518.0,788.9 520.0,789.4 522.0,789.9 524.0,790.4 526.0,790.9 528.0,791.4 530.0,791.9 532.0,792.4 534.0,792.9 536.0,793.5 538.0,794.0 540.0,794.6 542.0,795.1 544.0,795.7 546.0,796.2 548.0,796.8 550.0,797.4 552.0,798.0 554.0,798.6 556.0,799.2 558.0,799.8 560.0,800.4 562.0,801.0 564.0,801.6 566.0,802.2 568.0,802.8 570.0,803.5 572.0,804.1 574.0,804.7 576.0,805.4 578.0,806.0 580.0,806.7 582.0,807.4 584.0,808.0 586.0,808.7 588.0,809.4 590.0,810.1 592.0,810.7 594.0,811.4 596.0,812.1 598.0,812.8 600.0,813.5 602.0,814.2 604.0,815.0 606.0,815.7 608.0,816.4 610.0,817.1 612.0,817.8 614.0,818.6 616.0,819.3 618.0,820.0 620.0,820.8 622.0,821.5 624.0,822.3 626.0,823.0 628.0,823.7 630.0,824.5 632.0,825.2 634.0,826.0 636.0,826.7 638.0,827.5 640.0,828.2 642.0,829.0 644.0,829.8 646.0,830.5 648.0,831.3 650.0,832.1 652.0,832.8 654.0,833.6 656.0,834.4 658.0,835.2 660.0,835.9 662.0,836.7 664.0,837.5 666.0,838.3 668.0,839.1 670.0,840.0 672.0,840.8 674.0,841.6 676.0,842.4 678.0,843.3 680.0,844.1 682.0,845.0 684.0,845.9 686.0,846.7 688.0,847.6 690.0,848.5 692.0,849.4 694.0,850.2 696.0,851.1 698.0,852.0 700.0,852.9 702.0,853.8 704.0,854.7 706.0,855.7 708.0,856.6 710.0,857.5 712.0,858.4 714.0,859.3 716.0,860.2 718.0,861.2 720.0,862.1 722.0,863.0 724.0,863.9 726.0,864.9 728.0,865.8 730.0,866.7 732.0,867.7 734.0,868.6 736.0,869.5 738.0,870.5 740.0,871.4 742.0,872.3 744.0,873.3 746.0,874.2 748.0,875.1 750.0,876.1 752.0,877.0 754.0,878.0 756.0,878.9 758.0,879.9 760.0,880.9 762.0,881.8 764.0,882.8 766.0,883.8 768.0,884.8 770.0,885.8 772.0,886.8 774.0,887.8 776.0,888.8 778.0,889.8 780.0,890.8 782.0,891.9 784.0,892.9 786.0,894.0 788.0,895.0 790.0,896.1 792.0,897.2 794.0,898.2 796.0,899.3 798.0,900.4 800.0,901.5 802.0,902.6 804.0,903.7 806.0,904.8 808.0,905.9 810.0,907.0 812.0,908.1 814.0,909.2 816.0,910.4 818.0,911.5 820.0,912.6 822.0,913.8 824.0,914.9 826.0,916.1 828.0,917.2 830.0,918.4 832.0,919.5 834.0,920.7 836.0,921.8 838.0,923.0 840.0,924.2 842.0,925.3 844.0,926.5 846.0,927.7 848.0,928.8 850.0,930.0 852.0,931.2 854.0,932.4 856.0,933.6 858.0,934.8 860.0,935.9 862.0,937.1 864.0,938.3 866.0,939.6 868.0,940.8 870.0,942.0 872.0,943.2 874.0,944.4 876.0,945.7 878.0,946.9 880.0,948.1 882.0,949.4 884.0,950.6 886.0,951.9 888.0,953.1 890.0,954.4 892.0,955.6 894.0,956.9 896.0,958.1 898.0,959.4 900.0,960.7 902.0,961.9 904.0,963.2 906.0,964.5 908.0,965.8 910.0,967.0 912.0,968.3 914.0,969.6 916.0,970.8 918.0,972.1 920.0,973.3 922.0,974.6 924.0,975.8 926.0,977.1 928.0,978.3 930.0,979.5 932.0,980.7 934.0,982.0 936.0,983.2 938.0,984.4 940.0,985.6 942.0,986.8 944.0,988.0 946.0,989.1 948.0,990.3 950.0,991.5 952.0,992.7 954.0,993.8 956.0,995.0 958.0,996.1 960.0,997.3 962.0,998.4 964.0,999.6 966.0,1000.7 968.0,1001.9 970.0,1003.0 972.0,1004.1 974.0,1005.3 976.0,1006.4 978.0,1007.6 980.0,1008.7 982.0,1009.8 984.0,1011.0 986.0,1012.1 988.0,1013.3 990.0,1014.4 992.0,1015.5 994.0,1016.7 996.0,1017.8 998.0,1018.9 1000.0,1020.0 1002.0,1021.2 1004.0,1022.3 1006.0,1023.4 1008.0,1024.5 1010.0,1025.6 1012.0,1026.7 1014.0,1027.7 1016.0,1028.8 1018.0,1029.9 1020.0,1030.9 1022.0,1032.0 1024.0,1033.0 1026.0,1034.0 1028.0,1035.1 1030.0,1036.1 1032.0,1037.1 1034.0,1038.0 1036.0,1039.0 1038.0,1040.0 1040.0,1041.0 1042.0,1041.9 1044.0,1042.8 1046.0,1043.8 1048.0,1044.7 1050.0,1045.6 1052.0,1046.5 1054.0,1047.4 1056.0,1048.3 1058.0,1049.2 1060.0,1050.0 1062.0,1050.9 1064.0,1051.7 1066.0,1052.6 1068.0,1053.4 1070.0,1054.2 1072.0,1055.0 1074.0,1055.8 1076.0,1056.6 1078.0,1057.4 1080.0,1058.2 1082.0,1058.9 1084.0,1059.7 1086.0,1060.4 1088.0,1061.1 1090.0,1061.9 1092.0,1062.6 1094.0,1063.3 1096.0,1064.0 1098.0,1064.6 1100.0,1065.3 1102.0,1065.9 1104.0,1066.6 1106.0,1067.2 1108.0,1067.8 1110.0,1068.4 1112.0,1069.0 1114.0,1069.6 1116.0,1070.2 1118.0,1070.7 1120.0,1071.3 1122.0,1071.8 1124.0,1072.3 1126.0,1072.8 1128.0,1073.3 1130.0,1073.8 1132.0,1074.2 1134.0,1074.7 1136.0,1075.1 1138.0,1075.5 1140.0,1075.9 1142.0,1076.3 1144.0,1076.7 1146.0,1077.0 1148.0,1077.3 1150.0,1077.7 1152.0,1078.0 1154.0,1078.3 1156.0,1078.5 1158.0,1078.8 1160.0,1079.0 1162.0,1079.2 1164.0,1079.4 1166.0,1079.6 1168.0,1079.8 1170.0,1080.0 1172.0,1080.1 1174.0,1080.2 1176.0,1080.3 1178.0,1080.4 1180.0,1080.4 1182.0,1080.5 1184.0,1080.5 1186.0,1080.5 1188.0,1080.5 1190.0,1080.5 1192.0,1080.4 1194.0,1080.4 1196.0,1080.3 1198.0,1080.2 1200.0,1080.0 1202.0,1079.9 1204.0,1079.7 1206.0,1079.5 1208.0,1079.3 1210.0,1079.1 1212.0,1078.8 1214.0,1078.6 1216.0,1078.3 1218.0,1078.0 1220.0,1077.6 1222.0,1077.3 1224.0,1076.9 1226.0,1076.5 1228.0,1076.0 1230.0,1075.6 1232.0,1075.1 1234.0,1074.6 1236.0,1074.1 1238.0,1073.6 1240.0,1073.0 1242.0,1072.4 1244.0,1071.8 1246.0,1071.1 1248.0,1070.5 1250.0,1069.8 1252.0,1069.1 1254.0,1068.3 1256.0,1067.5 1258.0,1066.8 1260.0,1065.9 1262.0,1065.1 1264.0,1064.3 1266.0,1063.4 1268.0,1062.5 1270.0,1061.5 1272.0,1060.6 1274.0,1059.6 1276.0,1058.6 1278.0,1057.5 1280.0,1056.5 1282.0,1055.4 1284.0,1054.3 1286.0,1053.2 1288.0,1052.0 1290.0,1050.8 1292.0,1049.6 1294.0,1048.4 1296.0,1047.2 1298.0,1045.9 1300.0,1044.7 1302.0,1043.4 1304.0,1042.0 1306.0,1040.7 1308.0,1039.3 1310.0,1037.9 1312.0,1036.5 1314.0,1035.1 1316.0,1033.7 1318.0,1032.2 1320.0,1030.7 1322.0,1029.2 1324.0,1027.7 1326.0,1026.1 1328.0,1024.5 1330.0,1022.9 1332.0,1021.3 1334.0,1019.6 1336.0,1018.0 1338.0,1016.3 1340.0,1014.6 1342.0,1012.8 1344.0,1011.1 1346.0,1009.3 1348.0,1007.5 1350.0,1005.6 1352.0,1003.8 1354.0,1001.9 1356.0,1000.0 1358.0,998.0 1360.0,996.1 1362.0,994.1 1364.0,992.1 1366.0,990.1 1368.0,988.0 1370.0,986.0 1372.0,983.9 1374.0,981.7 1376.0,979.6 1378.0,977.4 1380.0,975.2 1382.0,973.0 1384.0,970.8 1386.0,968.5 1388.0,966.3 1390.0,964.0 1392.0,961.6 1394.0,959.3 1396.0,956.9 1398.0,954.5 1400.0,952.2 1402.0,949.7 1404.0,947.3 1406.0,944.9 1408.0,942.5 1410.0,940.0 1412.0,937.6 1414.0,935.1 1416.0,932.6 1418.0,930.2 1420.0,927.7 1422.0,925.3 1424.0,922.8 1426.0,920.3 1428.0,917.9 1430.0,915.4 1432.0,913.0 1434.0,910.5 1436.0,908.1 1438.0,905.7 1440.0,903.2 1442.0,900.8 1444.0,898.4 1446.0,896.0 1448.0,893.6 1450.0,891.3 1452.0,888.9 1454.0,886.5 1456.0,884.2 1458.0,881.8 1460.0,879.5 1462.0,877.2 1464.0,874.8 1466.0,872.5 1468.0,870.2 1470.0,867.9 1472.0,865.7 1474.0,863.4 1476.0,861.1 1478.0,858.9 1480.0,856.6 1482.0,854.4 1484.0,852.2 1486.0,849.9 1488.0,847.7 1490.0,845.5 1492.0,843.4 1494.0,841.2 1496.0,839.0 1498.0,836.9 1500.0,834.7 1502.0,832.6 1504.0,830.5 1506.0,828.4 1508.0,826.3 1510.0,824.3 1512.0,822.2 1514.0,820.2 1516.0,818.2 1518.0,816.2 1520.0,814.2 1522.0,812.3 1524.0,810.4 1526.0,808.5 1528.0,806.6 1530.0,804.7 1532.0,802.9 1534.0,801.1 1536.0,799.3 1538.0,797.6 1540.0,795.8 1542.0,794.1 1544.0,792.4 1546.0,790.8 1548.0,789.1 1550.0,787.5 1552.0,785.9 1554.0,784.4 1556.0,782.8 1558.0,781.3 1560.0,779.9 1562.0,778.4 1564.0,777.0 1566.0,775.6 1568.0,774.3 1570.0,772.9 1572.0,771.7 1574.0,770.4 1576.0,769.2 1578.0,768.0 1580.0,766.8 1582.0,765.7 1584.0,764.6 1586.0,763.6 1588.0,762.5 1590.0,761.6 1592.0,760.6 1594.0,759.7 1596.0,758.9 1598.0,758.0 1600.0,757.2 1602.0,756.5 1604.0,755.8 1606.0,755.1 1608.0,754.5 1610.0,753.9 1612.0,753.3 1614.0,752.8 1616.0,752.4 1618.0,751.9 1620.0,751.5 1622.0,751.2 1624.0,750.9 1626.0,750.6 1628.0,750.4 1630.0,750.2 1632.0,750.1 1634.0,750.0 1636.0,749.9 1638.0,749.9 1640.0,750.0 1642.0,750.0 1644.0,750.1 1646.0,750.3 1648.0,750.5 1650.0,750.7 1652.0,751.0 1654.0,751.3 1656.0,751.7 1658.0,752.1 1660.0,752.5 1662.0,753.0 1664.0,753.5 1666.0,754.1 1668.0,754.7 1670.0,755.3 1672.0,756.0 1674.0,756.7 1676.0,757.5 1678.0,758.2 1680.0,759.0 1682.0,759.9 1684.0,760.8 1686.0,761.7 1688.0,762.6 1690.0,763.6 1692.0,764.5 1694.0,765.6 1696.0,766.6 1698.0,767.6 1700.0,768.7 1702.0,769.8 1704.0,771.0 1706.0,772.1 1708.0,773.2 1710.0,774.4 1712.0,775.6 1714.0,776.8 1716.0,778.0 1718.0,779.2 1720.0,780.4 1722.0,781.7 1724.0,782.9 1726.0,784.2 1728.0,785.4 1730.0,786.7 1732.0,787.9 1734.0,789.2"/>
<polyline transform="translate(1.25,-1.25)" points="300.0,769.9 302.0,769.8 304.0,769.8 306.0,769.7 308.0,769.7 310.0,769.6 312.0,769.6 314.0,769.5 316.0,769.5 318.0,769.4 320.0,769.4 322.0,769.3 324.0,769.3 326.0,769.2 328.0,769.2 330.0,769.2 332.0,769.1 334.0,769.1 336.0,769.1 338.0,769.1 340.0,769.0 342.0,769.0 344.0,769.0 346.0,769.0 348.0,769.0 350.0,769.0 352.0,769.1 354.0,769.1 356.0,769.1 358.0,769.2 360.0,769.2 362.0,769.2 364.0,769.3 366.0,769.3 368.0,769.4 370.0,769.5 372.0,769.6 374.0,769.6 376.0,769.7 378.0,769.8 380.0,769.9 382.0,770.0 384.0,770.1 386.0,770.2 388.0,770.4 390.0,770.5 392.0,770.6 394.0,770.7 396.0,770.9 398.0,771.0 400.0,771.2 402.0,771.3 404.0,771.5 406.0,771.7 408.0,771.8 410.0,772.0 412.0,772.2 414.0,772.4 416.0,772.6 418.0,772.7 420.0,772.9 422.0,773.1 424.0,773.4 426.0,773.6 428.0,773.8 430.0,774.0 432.0,774.2 434.0,774.5 436.0,774.7 438.0,774.9 440.0,775.2 442.0,775.4 444.0,775.7 446.0,775.9 448.0,776.2 450.0,776.5 452.0,776.7 454.0,777.0 456.0,777.3 458.0,777.6 460.0,777.9 462.0,778.2 464.0,778.5 466.0,778.8 468.0,779.1 470.0,779.4 472.0,779.7 474.0,780.1 476.0,780.4 478.0,780.7 480.0,781.1 482.0,781.4 484.0,781.8 486.0,782.2 488.0,782.5 490.0,782.9 492.0,783.3 494.0,783.7 496.0,784.1 498.0,784.5 500.0,784.9 502.0,785.3 504.0,785.7 506.0,786.2 508.0,786.6 510.0,787.0 512.0,787.5 514.0,788.0 516.0,788.4 518.0,788.9 520.0,789.4 522.0,789.9 524.0,790.4 526.0,790.9 528.0,791.4 530.0,791.9 532.0,792.4 534.0,792.9 536.0,793.5 538.0,794.0 540.0,794.6 542.0,795.1 544.0,795.7 546.0,796.2 548.0,796.8 550.0,797.4 552.0,798.0 554.0,798.6 556.0,799.2 558.0,799.8 560.0,800.4 562.0,801.0 564.0,801.6 566.0,802.2 568.0,802.8 570.0,803.5 572.0,804.1 574.0,804.7 576.0,805.4 578.0,806.0 580.0,806.7 582.0,807.4 584.0,808.0 586.0,808.7 588.0,809.4 590.0,810.1 592.0,810.7 594.0,811.4 596.0,812.1 598.0,812.8 600.0,813.5 602.0,814.2 604.0,815.0 606.0,815.7 608.0,816.4 610.0,817.1 612.0,817.8 614.0,818.6 616.0,819.3 618.0,820.0 620.0,820.8 622.0,821.5 624.0,822.3 626.0,823.0 628.0,823.7 630.0,824.5 632.0,825.2 634.0,826.0 636.0,826.7 638.0,827.5 640.0,828.2 642.0,829.0 644.0,829.8 646.0,830.5 648.0,831.3 650.0,832.1 652.0,832.8 654.0,833.6 656.0,834.4 658.0,835.2 660.0,835.9 662.0,836.7 664.0,837.5 666.0,838.3 668.0,839.1 670.0,840.0 672.0,840.8 674.0,841.6 676.0,842.4 678.0,843.3 680.0,844.1 682.0,845.0 684.0,845.9 686.0,846.7 688.0,847.6 690.0,848.5 692.0,849.4 694.0,850.2 696.0,851.1 698.0,852.0 700.0,852.9 702.0,853.8 704.0,854.7 706.0,855.7 708.0,856.6 710.0,857.5 712.0,858.4 714.0,859.3 716.0,860.2 718.0,861.2 720.0,862.1 722.0,863.0 724.0,863.9 726.0,864.9 728.0,865.8 730.0,866.7 732.0,867.7 734.0,868.6 736.0,869.5 738.0,870.5 740.0,871.4 742.0,872.3 744.0,873.3 746.0,874.2 748.0,875.1 750.0,876.1 752.0,877.0 754.0,878.0 756.0,878.9 758.0,879.9 760.0,880.9 762.0,881.8 764.0,882.8 766.0,883.8 768.0,884.8 770.0,885.8 772.0,886.8 774.0,887.8 776.0,888.8 778.0,889.8 780.0,890.8 782.0,891.9 784.0,892.9 786.0,894.0 788.0,895.0 790.0,896.1 792.0,897.2 794.0,898.2 796.0,899.3 798.0,900.4 800.0,901.5 802.0,902.6 804.0,903.7 806.0,904.8 808.0,905.9 810.0,907.0 812.0,908.1 814.0,909.2 816.0,910.4 818.0,911.5 820.0,912.6 822.0,913.8 824.0,914.9 826.0,916.1 828.0,917.2 830.0,918.4 832.0,919.5 834.0,920.7 836.0,921.8 838.0,923.0 840.0,924.2 842.0,925.3 844.0,926.5 846.0,927.7 848.0,928.8 850.0,930.0 852.0,931.2 854.0,932.4 856.0,933.6 858.0,934.8 860.0,935.9 862.0,937.1 864.0,938.3 866.0,939.6 868.0,940.8 870.0,942.0 872.0,943.2 874.0,944.4 876.0,945.7 878.0,946.9 880.0,948.1 882.0,949.4 884.0,950.6 886.0,951.9 888.0,953.1 890.0,954.4 892.0,955.6 894.0,956.9 896.0,958.1 898.0,959.4 900.0,960.7 902.0,961.9 904.0,963.2 906.0,964.5 908.0,965.8 910.0,967.0 912.0,968.3 914.0,969.6 916.0,970.8 918.0,972.1 920.0,973.3 922.0,974.6 924.0,975.8 926.0,977.1 928.0,978.3 930.0,979.5 932.0,980.7 934.0,982.0 936.0,983.2 938.0,984.4 940.0,985.6 942.0,986.8 944.0,988.0 946.0,989.1 948.0,990.3 950.0,991.5 952.0,992.7 954.0,993.8 956.0,995.0 958.0,996.1 960.0,997.3 962.0,998.4 964.0,999.6 966.0,1000.7 968.0,1001.9 970.0,1003.0 972.0,1004.1 974.0,1005.3 976.0,1006.4 978.0,1007.6 980.0,1008.7 982.0,1009.8 984.0,1011.0 986.0,1012.1 988.0,1013.3 990.0,1014.4 992.0,1015.5 994.0,1016.7 996.0,1017.8 998.0,1018.9 1000.0,1020.0 1002.0,1021.2 1004.0,1022.3 1006.0,1023.4 1008.0,1024.5 1010.0,1025.6 1012.0,1026.7 1014.0,1027.7 1016.0,1028.8 1018.0,1029.9 1020.0,1030.9 1022.0,1032.0 1024.0,1033.0 1026.0,1034.0 1028.0,1035.1 1030.0,1036.1 1032.0,1037.1 1034.0,1038.0 1036.0,1039.0 1038.0,1040.0 1040.0,1041.0 1042.0,1041.9 1044.0,1042.8 1046.0,1043.8 1048.0,1044.7 1050.0,1045.6 1052.0,1046.5 1054.0,1047.4 1056.0,1048.3 1058.0,1049.2 1060.0,1050.0 1062.0,1050.9 1064.0,1051.7 1066.0,1052.6 1068.0,1053.4 1070.0,1054.2 1072.0,1055.0 1074.0,1055.8 1076.0,1056.6 1078.0,1057.4 1080.0,1058.2 1082.0,1058.9 1084.0,1059.7 1086.0,1060.4 1088.0,1061.1 1090.0,1061.9 1092.0,1062.6 1094.0,1063.3 1096.0,1064.0 1098.0,1064.6 1100.0,1065.3 1102.0,1065.9 1104.0,1066.6 1106.0,1067.2 1108.0,1067.8 1110.0,1068.4 1112.0,1069.0 1114.0,1069.6 1116.0,1070.2 1118.0,1070.7 1120.0,1071.3 1122.0,1071.8 1124.0,1072.3 1126.0,1072.8 1128.0,1073.3 1130.0,1073.8 1132.0,1074.2 1134.0,1074.7 1136.0,1075.1 1138.0,1075.5 1140.0,1075.9 1142.0,1076.3 1144.0,1076.7 1146.0,1077.0 1148.0,1077.3 1150.0,1077.7 1152.0,1078.0 1154.0,1078.3 1156.0,1078.5 1158.0,1078.8 1160.0,1079.0 1162.0,1079.2 1164.0,1079.4 1166.0,1079.6 1168.0,1079.8 1170.0,1080.0 1172.0,1080.1 1174.0,1080.2 1176.0,1080.3 1178.0,1080.4 1180.0,1080.4 1182.0,1080.5 1184.0,1080.5 1186.0,1080.5 1188.0,1080.5 1190.0,1080.5 1192.0,1080.4 1194.0,1080.4 1196.0,1080.3 1198.0,1080.2 1200.0,1080.0 1202.0,1079.9 1204.0,1079.7 1206.0,1079.5 1208.0,1079.3 1210.0,1079.1 1212.0,1078.8 1214.0,1078.6 1216.0,1078.3 1218.0,1078.0 1220.0,1077.6 1222.0,1077.3 1224.0,1076.9 1226.0,1076.5 1228.0,1076.0 1230.0,1075.6 1232.0,1075.1 1234.0,1074.6 1236.0,1074.1 1238.0,1073.6 1240.0,1073.0 1242.0,1072.4 1244.0,1071.8 1246.0,1071.1 1248.0,1070.5 1250.0,1069.8 1252.0,1069.1 1254.0,1068.3 1256.0,1067.5 1258.0,1066.8 1260.0,1065.9 1262.0,1065.1 1264.0,1064.3 1266.0,1063.4 1268.0,1062.5 1270.0,1061.5 1272.0,1060.6 1274.0,1059.6 1276.0,1058.6 1278.0,1057.5 1280.0,1056.5 1282.0,1055.4 1284.0,1054.3 1286.0,1053.2 1288.0,1052.0 1290.0,1050.8 1292.0,1049.6 1294.0,1048.4 1296.0,1047.2 1298.0,1045.9 1300.0,1044.7 1302.0,1043.4 1304.0,1042.0 1306.0,1040.7 1308.0,1039.3 1310.0,1037.9 1312.0,1036.5 1314.0,1035.1 1316.0,1033.7 1318.0,1032.2 1320.0,1030.7 1322.0,1029.2 1324.0,1027.7 1326.0,1026.1 1328.0,1024.5 1330.0,1022.9 1332.0,1021.3 1334.0,1019.6 1336.0,1018.0 1338.0,1016.3 1340.0,1014.6 1342.0,1012.8 1344.0,1011.1 1346.0,1009.3 1348.0,1007.5 1350.0,1005.6 1352.0,1003.8 1354.0,1001.9 1356.0,1000.0 1358.0,998.0 1360.0,996.1 1362.0,994.1 1364.0,992.1 1366.0,990.1 1368.0,988.0 1370.0,986.0 1372.0,983.9 1374.0,981.7 1376.0,979.6 1378.0,977.4 1380.0,975.2 1382.0,973.0 1384.0,970.8 1386.0,968.5 1388.0,966.3 1390.0,964.0 1392.0,961.6 1394.0,959.3 1396.0,956.9 1398.0,954.5 1400.0,952.2 1402.0,949.7 1404.0,947.3 1406.0,944.9 1408.0,942.5 1410.0,940.0 1412.0,937.6 1414.0,935.1 1416.0,932.6 1418.0,930.2 1420.0,927.7 1422.0,925.3 1424.0,922.8 1426.0,920.3 1428.0,917.9 1430.0,915.4 1432.0,913.0 1434.0,910.5 1436.0,908.1 1438.0,905.7 1440.0,903.2 1442.0,900.8 1444.0,898.4 1446.0,896.0 1448.0,893.6 1450.0,891.3 1452.0,888.9 1454.0,886.5 1456.0,884.2 1458.0,881.8 1460.0,879.5 1462.0,877.2 1464.0,874.8 1466.0,872.5 1468.0,870.2 1470.0,867.9 1472.0,865.7 1474.0,863.4 1476.0,861.1 1478.0,858.9 1480.0,856.6 1482.0,854.4 1484.0,852.2 1486.0,849.9 1488.0,847.7 1490.0,845.5 1492.0,843.4 1494.0,841.2 1496.0,839.0 1498.0,836.9 1500.0,834.7 1502.0,832.6 1504.0,830.5 1506.0,828.4 1508.0,826.3 1510.0,824.3 1512.0,822.2 1514.0,820.2 1516.0,818.2 1518.0,816.2 1520.0,814.2 1522.0,812.3 1524.0,810.4 1526.0,808.5 1528.0,806.6 1530.0,804.7 1532.0,802.9 1534.0,801.1 1536.0,799.3 1538.0,797.6 1540.0,795.8 1542.0,794.1 1544.0,792.4 1546.0,790.8 1548.0,789.1 1550.0,787.5 1552.0,785.9 1554.0,784.4 1556.0,782.8 1558.0,781.3 1560.0,779.9 1562.0,778.4 1564.0,777.0 1566.0,775.6 1568.0,774.3 1570.0,772.9 1572.0,771.7 1574.0,770.4 1576.0,769.2 1578.0,768.0 1580.0,766.8 1582.0,765.7 1584.0,764.6 1586.0,763.6 1588.0,762.5 1590.0,761.6 1592.0,760.6 1594.0,759.7 1596.0,758.9 1598.0,758.0 1600.0,757.2 1602.0,756.5 1604.0,755.8 1606.0,755.1 1608.0,754.5 1610.0,753.9 1612.0,753.3 1614.0,752.8 1616.0,752.4 1618.0,751.9 1620.0,751.5 1622.0,751.2 1624.0,750.9 1626.0,750.6 1628.0,750.4 1630.0,750.2 1632.0,750.1 1634.0,750.0 1636.0,749.9 1638.0,749.9 1640.0,750.0 1642.0,750.0 1644.0,750.1 1646.0,750.3 1648.0,750.5 1650.0,750.7 1652.0,751.0 1654.0,751.3 1656.0,751.7 1658.0,752.1 1660.0,752.5 1662.0,753.0 1664.0,753.5 1666.0,754.1 1668.0,754.7 1670.0,755.3 1672.0,756.0 1674.0,756.7 1676.0,757.5 1678.0,758.2 1680.0,759.0 1682.0,759.9 1684.0,760.8 1686.0,761.7 1688.0,762.6 1690.0,763.6 1692.0,764.5 1694.0,765.6 1696.0,766.6 1698.0,767.6 1700.0,768.7 1702.0,769.8 1704.0,771.0 1706.0,772.1 1708.0,773.2 1710.0,774.4 1712.0,775.6 1714.0,776.8 1716.0,778.0 1718.0,779.2 1720.0,780.4 1722.0,781.7 1724.0,782.9 1726.0,784.2 1728.0,785.4 1730.0,786.7 1732.0,787.9 1734.0,789.2"/>
<polyline transform="translate(-1.25,1.25)" points="300.0,769.9 302.0,769.8 304.0,769.8 306.0,769.7 308.0,769.7 310.0,769.6 312.0,769.6 314.0,769.5 316.0,769.5 318.0,769.4 320.0,769.4 322.0,769.3 324.0,769.3 326.0,769.2 328.0,769.2 330.0,769.2 332.0,769.1 334.0,769.1 336.0,769.1 338.0,769.1 340.0,769.0 342.0,769.0 344.0,769.0 346.0,769.0 348.0,769.0 350.0,769.0 352.0,769.1 354.0,769.1 356.0,769.1 358.0,769.2 360.0,769.2 362.0,769.2 364.0,769.3 366.0,769.3 368.0,769.4 370.0,769.5 372.0,769.6 374.0,769.6 376.0,769.7 378.0,769.8 380.0,769.9 382.0,770.0 384.0,770.1 386.0,770.2 388.0,770.4 390.0,770.5 392.0,770.6 394.0,770.7 396.0,770.9 398.0,771.0 400.0,771.2 402.0,771.3 404.0,771.5 406.0,771.7 408.0,771.8 410.0,772.0 412.0,772.2 414.0,772.4 416.0,772.6 418.0,772.7 420.0,772.9 422.0,773.1 424.0,773.4 426.0,773.6 428.0,773.8 430.0,774.0 432.0,774.2 434.0,774.5 436.0,774.7 438.0,774.9 440.0,775.2 442.0,775.4 444.0,775.7 446.0,775.9 448.0,776.2 450.0,776.5 452.0,776.7 454.0,777.0 456.0,777.3 458.0,777.6 460.0,777.9 462.0,778.2 464.0,778.5 466.0,778.8 468.0,779.1 470.0,779.4 472.0,779.7 474.0,780.1 476.0,780.4 478.0,780.7 480.0,781.1 482.0,781.4 484.0,781.8 486.0,782.2 488.0,782.5 490.0,782.9 492.0,783.3 494.0,783.7 496.0,784.1 498.0,784.5 500.0,784.9 502.0,785.3 504.0,785.7 506.0,786.2 508.0,786.6 510.0,787.0 512.0,787.5 514.0,788.0 516.0,788.4 518.0,788.9 520.0,789.4 522.0,789.9 524.0,790.4 526.0,790.9 528.0,791.4 530.0,791.9 532.0,792.4 534.0,792.9 536.0,793.5 538.0,794.0 540.0,794.6 542.0,795.1 544.0,795.7 546.0,796.2 548.0,796.8 550.0,797.4 552.0,798.0 554.0,798.6 556.0,799.2 558.0,799.8 560.0,800.4 562.0,801.0 564.0,801.6 566.0,802.2 568.0,802.8 570.0,803.5 572.0,804.1 574.0,804.7 576.0,805.4 578.0,806.0 580.0,806.7 582.0,807.4 584.0,808.0 586.0,808.7 588.0,809.4 590.0,810.1 592.0,810.7 594.0,811.4 596.0,812.1 598.0,812.8 600.0,813.5 602.0,814.2 604.0,815.0 606.0,815.7 608.0,816.4 610.0,817.1 612.0,817.8 614.0,818.6 616.0,819.3 618.0,820.0 620.0,820.8 622.0,821.5 624.0,822.3 626.0,823.0 628.0,823.7 630.0,824.5 632.0,825.2 634.0,826.0 636.0,826.7 638.0,827.5 640.0,828.2 642.0,829.0 644.0,829.8 646.0,830.5 648.0,831.3 650.0,832.1 652.0,832.8 654.0,833.6 656.0,834.4 658.0,835.2 660.0,835.9 662.0,836.7 664.0,837.5 666.0,838.3 668.0,839.1 670.0,840.0 672.0,840.8 674.0,841.6 676.0,842.4 678.0,843.3 680.0,844.1 682.0,845.0 684.0,845.9 686.0,846.7 688.0,847.6 690.0,848.5 692.0,849.4 694.0,850.2 696.0,851.1 698.0,852.0 700.0,852.9 702.0,853.8 704.0,854.7 706.0,855.7 708.0,856.6 710.0,857.5 712.0,858.4 714.0,859.3 716.0,860.2 718.0,861.2 720.0,862.1 722.0,863.0 724.0,863.9 726.0,864.9 728.0,865.8 730.0,866.7 732.0,867.7 734.0,868.6 736.0,869.5 738.0,870.5 740.0,871.4 742.0,872.3 744.0,873.3 746.0,874.2 748.0,875.1 750.0,876.1 752.0,877.0 754.0,878.0 756.0,878.9 758.0,879.9 760.0,880.9 762.0,881.8 764.0,882.8 766.0,883.8 768.0,884.8 770.0,885.8 772.0,886.8 774.0,887.8 776.0,888.8 778.0,889.8 780.0,890.8 782.0,891.9 784.0,892.9 786.0,894.0 788.0,895.0 790.0,896.1 792.0,897.2 794.0,898.2 796.0,899.3 798.0,900.4 800.0,901.5 802.0,902.6 804.0,903.7 806.0,904.8 808.0,905.9 810.0,907.0 812.0,908.1 814.0,909.2 816.0,910.4 818.0,911.5 820.0,912.6 822.0,913.8 824.0,914.9 826.0,916.1 828.0,917.2 830.0,918.4 832.0,919.5 834.0,920.7 836.0,921.8 838.0,923.0 840.0,924.2 842.0,925.3 844.0,926.5 846.0,927.7 848.0,928.8 850.0,930.0 852.0,931.2 854.0,932.4 856.0,933.6 858.0,934.8 860.0,935.9 862.0,937.1 864.0,938.3 866.0,939.6 868.0,940.8 870.0,942.0 872.0,943.2 874.0,944.4 876.0,945.7 878.0,946.9 880.0,948.1 882.0,949.4 884.0,950.6 886.0,951.9 888.0,953.1 890.0,954.4 892.0,955.6 894.0,956.9 896.0,958.1 898.0,959.4 900.0,960.7 902.0,961.9 904.0,963.2 906.0,964.5 908.0,965.8 910.0,967.0 912.0,968.3 914.0,969.6 916.0,970.8 918.0,972.1 920.0,973.3 922.0,974.6 924.0,975.8 926.0,977.1 928.0,978.3 930.0,979.5 932.0,980.7 934.0,982.0 936.0,983.2 938.0,984.4 940.0,985.6 942.0,986.8 944.0,988.0 946.0,989.1 948.0,990.3 950.0,991.5 952.0,992.7 954.0,993.8 956.0,995.0 958.0,996.1 960.0,997.3 962.0,998.4 964.0,999.6 966.0,1000.7 968.0,1001.9 970.0,1003.0 972.0,1004.1 974.0,1005.3 976.0,1006.4 978.0,1007.6 980.0,1008.7 982.0,1009.8 984.0,1011.0 986.0,1012.1 988.0,1013.3 990.0,1014.4 992.0,1015.5 994.0,1016.7 996.0,1017.8 998.0,1018.9 1000.0,1020.0 1002.0,1021.2 1004.0,1022.3 1006.0,1023.4 1008.0,1024.5 1010.0,1025.6 1012.0,1026.7 1014.0,1027.7 1016.0,1028.8 1018.0,1029.9 1020.0,1030.9 1022.0,1032.0 1024.0,1033.0 1026.0,1034.0 1028.0,1035.1 1030.0,1036.1 1032.0,1037.1 1034.0,1038.0 1036.0,1039.0 1038.0,1040.0 1040.0,1041.0 1042.0,1041.9 1044.0,1042.8 1046.0,1043.8 1048.0,1044.7 1050.0,1045.6 1052.0,1046.5 1054.0,1047.4 1056.0,1048.3 1058.0,1049.2 1060.0,1050.0 1062.0,1050.9 1064.0,1051.7 1066.0,1052.6 1068.0,1053.4 1070.0,1054.2 1072.0,1055.0 1074.0,1055.8 1076.0,1056.6 1078.0,1057.4 1080.0,1058.2 1082.0,1058.9 1084.0,1059.7 1086.0,1060.4 1088.0,1061.1 1090.0,1061.9 1092.0,1062.6 1094.0,1063.3 1096.0,1064.0 1098.0,1064.6 1100.0,1065.3 1102.0,1065.9 1104.0,1066.6 1106.0,1067.2 1108.0,1067.8 1110.0,1068.4 1112.0,1069.0 1114.0,1069.6 1116.0,1070.2 1118.0,1070.7 1120.0,1071.3 1122.0,1071.8 1124.0,1072.3 1126.0,1072.8 1128.0,1073.3 1130.0,1073.8 1132.0,1074.2 1134.0,1074.7 1136.0,1075.1 1138.0,1075.5 1140.0,1075.9 1142.0,1076.3 1144.0,1076.7 1146.0,1077.0 1148.0,1077.3 1150.0,1077.7 1152.0,1078.0 1154.0,1078.3 1156.0,1078.5 1158.0,1078.8 1160.0,1079.0 1162.0,1079.2 1164.0,1079.4 1166.0,1079.6 1168.0,1079.8 1170.0,1080.0 1172.0,1080.1 1174.0,1080.2 1176.0,1080.3 1178.0,1080.4 1180.0,1080.4 1182.0,1080.5 1184.0,1080.5 1186.0,1080.5 1188.0,1080.5 1190.0,1080.5 1192.0,1080.4 1194.0,1080.4 1196.0,1080.3 1198.0,1080.2 1200.0,1080.0 1202.0,1079.9 1204.0,1079.7 1206.0,1079.5 1208.0,1079.3 1210.0,1079.1 1212.0,1078.8 1214.0,1078.6 1216.0,1078.3 1218.0,1078.0 1220.0,1077.6 1222.0,1077.3 1224.0,1076.9 1226.0,1076.5 1228.0,1076.0 1230.0,1075.6 1232.0,1075.1 1234.0,1074.6 1236.0,1074.1 1238.0,1073.6 1240.0,1073.0 1242.0,1072.4 1244.0,1071.8 1246.0,1071.1 1248.0,1070.5 1250.0,1069.8 1252.0,1069.1 1254.0,1068.3 1256.0,1067.5 1258.0,1066.8 1260.0,1065.9 1262.0,1065.1 1264.0,1064.3 1266.0,1063.4 1268.0,1062.5 1270.0,1061.5 1272.0,1060.6 1274.0,1059.6 1276.0,1058.6 1278.0,1057.5 1280.0,1056.5 1282.0,1055.4 1284.0,1054.3 1286.0,1053.2 1288.0,1052.0 1290.0,1050.8 1292.0,1049.6 1294.0,1048.4 1296.0,1047.2 1298.0,1045.9 1300.0,1044.7 1302.0,1043.4 1304.0,1042.0 1306.0,1040.7 1308.0,1039.3 1310.0,1037.9 1312.0,1036.5 1314.0,1035.1 1316.0,1033.7 1318.0,1032.2 1320.0,1030.7 1322.0,1029.2 1324.0,1027.7 1326.0,1026.1 1328.0,1024.5 1330.0,1022.9 1332.0,1021.3 1334.0,1019.6 1336.0,1018.0 1338.0,1016.3 1340.0,1014.6 1342.0,1012.8 1344.0,1011.1 1346.0,1009.3 1348.0,1007.5 1350.0,1005.6 1352.0,1003.8 1354.0,1001.9 1356.0,1000.0 1358.0,998.0 1360.0,996.1 1362.0,994.1 1364.0,992.1 1366.0,990.1 1368.0,988.0 1370.0,986.0 1372.0,983.9 1374.0,981.7 1376.0,979.6 1378.0,977.4 1380.0,975.2 1382.0,973.0 1384.0,970.8 1386.0,968.5 1388.0,966.3 1390.0,964.0 1392.0,961.6 1394.0,959.3 1396.0,956.9 1398.0,954.5 1400.0,952.2 1402.0,949.7 1404.0,947.3 1406.0,944.9 1408.0,942.5 1410.0,940.0 1412.0,937.6 1414.0,935.1 1416.0,932.6 1418.0,930.2 1420.0,927.7 1422.0,925.3 1424.0,922.8 1426.0,920.3 1428.0,917.9 1430.0,915.4 1432.0,913.0 1434.0,910.5 1436.0,908.1 1438.0,905.7 1440.0,903.2 1442.0,900.8 1444.0,898.4 1446.0,896.0 1448.0,893.6 1450.0,891.3 1452.0,888.9 1454.0,886.5 1456.0,884.2 1458.0,881.8 1460.0,879.5 1462.0,877.2 1464.0,874.8 1466.0,872.5 1468.0,870.2 1470.0,867.9 1472.0,865.7 1474.0,863.4 1476.0,861.1 1478.0,858.9 1480.0,856.6 1482.0,854.4 1484.0,852.2 1486.0,849.9 1488.0,847.7 1490.0,845.5 1492.0,843.4 1494.0,841.2 1496.0,839.0 1498.0,836.9 1500.0,834.7 1502.0,832.6 1504.0,830.5 1506.0,828.4 1508.0,826.3 1510.0,824.3 1512.0,822.2 1514.0,820.2 1516.0,818.2 1518.0,816.2 1520.0,814.2 1522.0,812.3 1524.0,810.4 1526.0,808.5 1528.0,806.6 1530.0,804.7 1532.0,802.9 1534.0,801.1 1536.0,799.3 1538.0,797.6 1540.0,795.8 1542.0,794.1 1544.0,792.4 1546.0,790.8 1548.0,789.1 1550.0,787.5 1552.0,785.9 1554.0,784.4 1556.0,782.8 1558.0,781.3 1560.0,779.9 1562.0,778.4 1564.0,777.0 1566.0,775.6 1568.0,774.3 1570.0,772.9 1572.0,771.7 1574.0,770.4 1576.0,769.2 1578.0,768.0 1580.0,766.8 1582.0,765.7 1584.0,764.6 1586.0,763.6 1588.0,762.5 1590.0,761.6 1592.0,760.6 1594.0,759.7 1596.0,758.9 1598.0,758.0 1600.0,757.2 1602.0,756.5 1604.0,755.8 1606.0,755.1 1608.0,754.5 1610.0,753.9 1612.0,753.3 1614.0,752.8 1616.0,752.4 1618.0,751.9 1620.0,751.5 1622.0,751.2 1624.0,750.9 1626.0,750.6 1628.0,750.4 1630.0,750.2 1632.0,750.1 1634.0,750.0 1636.0,749.9 1638.0,749.9 1640.0,750.0 1642.0,750.0 1644.0,750.1 1646.0,750.3 1648.0,750.5 1650.0,750.7 1652.0,751.0 1654.0,751.3 1656.0,751.7 1658.0,752.1 1660.0,752.5 1662.0,753.0 1664.0,753.5 1666.0,754.1 1668.0,754.7 1670.0,755.3 1672.0,756.0 1674.0,756.7 1676.0,757.5 1678.0,758.2 1680.0,759.0 1682.0,759.9 1684.0,760.8 1686.0,761.7 1688.0,762.6 1690.0,763.6 1692.0,764.5 1694.0,765.6 1696.0,766.6 1698.0,767.6 1700.0,768.7 1702.0,769.8 1704.0,771.0 1706.0,772.1 1708.0,773.2 1710.0,774.4 1712.0,775.6 1714.0,776.8 1716.0,778.0 1718.0,779.2 1720.0,780.4 1722.0,781.7 1724.0,782.9 1726.0,784.2 1728.0,785.4 1730.0,786.7 1732.0,787.9 1734.0,789.2"/>
<polyline transform="translate(1.25,1.25)" points="300.0,769.9 302.0,769.8 304.0,769.8 306.0,769.7 308.0,769.7 310.0,769.6 312.0,769.6 314.0,769.5 316.0,769.5 318.0,769.4 320.0,769.4 322.0,769.3 324.0,769.3 326.0,769.2 328.0,769.2 330.0,769.2 332.0,769.1 334.0,769.1 336.0,769.1 338.0,769.1 340.0,769.0 342.0,769.0 344.0,769.0 346.0,769.0 348.0,769.0 350.0,769.0 352.0,769.1 354.0,769.1 356.0,769.1 358.0,769.2 360.0,769.2 362.0,769.2 364.0,769.3 366.0,769.3 368.0,769.4 370.0,769.5 372.0,769.6 374.0,769.6 376.0,769.7 378.0,769.8 380.0,769.9 382.0,770.0 384.0,770.1 386.0,770.2 388.0,770.4 390.0,770.5 392.0,770.6 394.0,770.7 396.0,770.9 398.0,771.0 400.0,771.2 402.0,771.3 404.0,771.5 406.0,771.7 408.0,771.8 410.0,772.0 412.0,772.2 414.0,772.4 416.0,772.6 418.0,772.7 420.0,772.9 422.0,773.1 424.0,773.4 426.0,773.6 428.0,773.8 430.0,774.0 432.0,774.2 434.0,774.5 436.0,774.7 438.0,774.9 440.0,775.2 442.0,775.4 444.0,775.7 446.0,775.9 448.0,776.2 450.0,776.5 452.0,776.7 454.0,777.0 456.0,777.3 458.0,777.6 460.0,777.9 462.0,778.2 464.0,778.5 466.0,778.8 468.0,779.1 470.0,779.4 472.0,779.7 474.0,780.1 476.0,780.4 478.0,780.7 480.0,781.1 482.0,781.4 484.0,781.8 486.0,782.2 488.0,782.5 490.0,782.9 492.0,783.3 494.0,783.7 496.0,784.1 498.0,784.5 500.0,784.9 502.0,785.3 504.0,785.7 506.0,786.2 508.0,786.6 510.0,787.0 512.0,787.5 514.0,788.0 516.0,788.4 518.0,788.9 520.0,789.4 522.0,789.9 524.0,790.4 526.0,790.9 528.0,791.4 530.0,791.9 532.0,792.4 534.0,792.9 536.0,793.5 538.0,794.0 540.0,794.6 542.0,795.1 544.0,795.7 546.0,796.2 548.0,796.8 550.0,797.4 552.0,798.0 554.0,798.6 556.0,799.2 558.0,799.8 560.0,800.4 562.0,801.0 564.0,801.6 566.0,802.2 568.0,802.8 570.0,803.5 572.0,804.1 574.0,804.7 576.0,805.4 578.0,806.0 580.0,806.7 582.0,807.4 584.0,808.0 586.0,808.7 588.0,809.4 590.0,810.1 592.0,810.7 594.0,811.4 596.0,812.1 598.0,812.8 600.0,813.5 602.0,814.2 604.0,815.0 606.0,815.7 608.0,816.4 610.0,817.1 612.0,817.8 614.0,818.6 616.0,819.3 618.0,820.0 620.0,820.8 622.0,821.5 624.0,822.3 626.0,823.0 628.0,823.7 630.0,824.5 632.0,825.2 634.0,826.0 636.0,826.7 638.0,827.5 640.0,828.2 642.0,829.0 644.0,829.8 646.0,830.5 648.0,831.3 650.0,832.1 652.0,832.8 654.0,833.6 656.0,834.4 658.0,835.2 660.0,835.9 662.0,836.7 664.0,837.5 666.0,838.3 668.0,839.1 670.0,840.0 672.0,840.8 674.0,841.6 676.0,842.4 678.0,843.3 680.0,844.1 682.0,845.0 684.0,845.9 686.0,846.7 688.0,847.6 690.0,848.5 692.0,849.4 694.0,850.2 696.0,851.1 698.0,852.0 700.0,852.9 702.0,853.8 704.0,854.7 706.0,855.7 708.0,856.6 710.0,857.5 712.0,858.4 714.0,859.3 716.0,860.2 718.0,861.2 720.0,862.1 722.0,863.0 724.0,863.9 726.0,864.9 728.0,865.8 730.0,866.7 732.0,867.7 734.0,868.6 736.0,869.5 738.0,870.5 740.0,871.4 742.0,872.3 744.0,873.3 746.0,874.2 748.0,875.1 750.0,876.1 752.0,877.0 754.0,878.0 756.0,878.9 758.0,879.9 760.0,880.9 762.0,881.8 764.0,882.8 766.0,883.8 768.0,884.8 770.0,885.8 772.0,886.8 774.0,887.8 776.0,888.8 778.0,889.8 780.0,890.8 782.0,891.9 784.0,892.9 786.0,894.0 788.0,895.0 790.0,896.1 792.0,897.2 794.0,898.2 796.0,899.3 798.0,900.4 800.0,901.5 802.0,902.6 804.0,903.7 806.0,904.8 808.0,905.9 810.0,907.0 812.0,908.1 814.0,909.2 816.0,910.4 818.0,911.5 820.0,912.6 822.0,913.8 824.0,914.9 826.0,916.1 828.0,917.2 830.0,918.4 832.0,919.5 834.0,920.7 836.0,921.8 838.0,923.0 840.0,924.2 842.0,925.3 844.0,926.5 846.0,927.7 848.0,928.8 850.0,930.0 852.0,931.2 854.0,932.4 856.0,933.6 858.0,934.8 860.0,935.9 862.0,937.1 864.0,938.3 866.0,939.6 868.0,940.8 870.0,942.0 872.0,943.2 874.0,944.4 876.0,945.7 878.0,946.9 880.0,948.1 882.0,949.4 884.0,950.6 886.0,951.9 888.0,953.1 890.0,954.4 892.0,955.6 894.0,956.9 896.0,958.1 898.0,959.4 900.0,960.7 902.0,961.9 904.0,963.2 906.0,964.5 908.0,965.8 910.0,967.0 912.0,968.3 914.0,969.6 916.0,970.8 918.0,972.1 920.0,973.3 922.0,974.6 924.0,975.8 926.0,977.1 928.0,978.3 930.0,979.5 932.0,980.7 934.0,982.0 936.0,983.2 938.0,984.4 940.0,985.6 942.0,986.8 944.0,988.0 946.0,989.1 948.0,990.3 950.0,991.5 952.0,992.7 954.0,993.8 956.0,995.0 958.0,996.1 960.0,997.3 962.0,998.4 964.0,999.6 966.0,1000.7 968.0,1001.9 970.0,1003.0 972.0,1004.1 974.0,1005.3 976.0,1006.4 978.0,1007.6 980.0,1008.7 982.0,1009.8 984.0,1011.0 986.0,1012.1 988.0,1013.3 990.0,1014.4 992.0,1015.5 994.0,1016.7 996.0,1017.8 998.0,1018.9 1000.0,1020.0 1002.0,1021.2 1004.0,1022.3 1006.0,1023.4 1008.0,1024.5 1010.0,1025.6 1012.0,1026.7 1014.0,1027.7 1016.0,1028.8 1018.0,1029.9 1020.0,1030.9 1022.0,1032.0 1024.0,1033.0 1026.0,1034.0 1028.0,1035.1 1030.0,1036.1 1032.0,1037.1 1034.0,1038.0 1036.0,1039.0 1038.0,1040.0 1040.0,1041.0 1042.0,1041.9 1044.0,1042.8 1046.0,1043.8 1048.0,1044.7 1050.0,1045.6 1052.0,1046.5 1054.0,1047.4 1056.0,1048.3 1058.0,1049.2 1060.0,1050.0 1062.0,1050.9 1064.0,1051.7 1066.0,1052.6 1068.0,1053.4 1070.0,1054.2 1072.0,1055.0 1074.0,1055.8 1076.0,1056.6 1078.0,1057.4 1080.0,1058.2 1082.0,1058.9 1084.0,1059.7 1086.0,1060.4 1088.0,1061.1 1090.0,1061.9 1092.0,1062.6 1094.0,1063.3 1096.0,1064.0 1098.0,1064.6 1100.0,1065.3 1102.0,1065.9 1104.0,1066.6 1106.0,1067.2 1108.0,1067.8 1110.0,1068.4 1112.0,1069.0 1114.0,1069.6 1116.0,1070.2 1118.0,1070.7 1120.0,1071.3 1122.0,1071.8 1124.0,1072.3 1126.0,1072.8 1128.0,1073.3 1130.0,1073.8 1132.0,1074.2 1134.0,1074.7 1136.0,1075.1 1138.0,1075.5 1140.0,1075.9 1142.0,1076.3 1144.0,1076.7 1146.0,1077.0 1148.0,1077.3 1150.0,1077.7 1152.0,1078.0 1154.0,1078.3 1156.0,1078.5 1158.0,1078.8 1160.0,1079.0 1162.0,1079.2 1164.0,1079.4 1166.0,1079.6 1168.0,1079.8 1170.0,1080.0 1172.0,1080.1 1174.0,1080.2 1176.0,1080.3 1178.0,1080.4 1180.0,1080.4 1182.0,1080.5 1184.0,1080.5 1186.0,1080.5 1188.0,1080.5 1190.0,1080.5 1192.0,1080.4 1194.0,1080.4 1196.0,1080.3 1198.0,1080.2 1200.0,1080.0 1202.0,1079.9 1204.0,1079.7 1206.0,1079.5 1208.0,1079.3 1210.0,1079.1 1212.0,1078.8 1214.0,1078.6 1216.0,1078.3 1218.0,1078.0 1220.0,1077.6 1222.0,1077.3 1224.0,1076.9 1226.0,1076.5 1228.0,1076.0 1230.0,1075.6 1232.0,1075.1 1234.0,1074.6 1236.0,1074.1 1238.0,1073.6 1240.0,1073.0 1242.0,1072.4 1244.0,1071.8 1246.0,1071.1 1248.0,1070.5 1250.0,1069.8 1252.0,1069.1 1254.0,1068.3 1256.0,1067.5 1258.0,1066.8 1260.0,1065.9 1262.0,1065.1 1264.0,1064.3 1266.0,1063.4 1268.0,1062.5 1270.0,1061.5 1272.0,1060.6 1274.0,1059.6 1276.0,1058.6 1278.0,1057.5 1280.0,1056.5 1282.0,1055.4 1284.0,1054.3 1286.0,1053.2 1288.0,1052.0 1290.0,1050.8 1292.0,1049.6 1294.0,1048.4 1296.0,1047.2 1298.0,1045.9 1300.0,1044.7 1302.0,1043.4 1304.0,1042.0 1306.0,1040.7 1308.0,1039.3 1310.0,1037.9 1312.0,1036.5 1314.0,1035.1 1316.0,1033.7 1318.0,1032.2 1320.0,1030.7 1322.0,1029.2 1324.0,1027.7 1326.0,1026.1 1328.0,1024.5 1330.0,1022.9 1332.0,1021.3 1334.0,1019.6 1336.0,1018.0 1338.0,1016.3 1340.0,1014.6 1342.0,1012.8 1344.0,1011.1 1346.0,1009.3 1348.0,1007.5 1350.0,1005.6 1352.0,1003.8 1354.0,1001.9 1356.0,1000.0 1358.0,998.0 1360.0,996.1 1362.0,994.1 1364.0,992.1 1366.0,990.1 1368.0,988.0 1370.0,986.0 1372.0,983.9 1374.0,981.7 1376.0,979.6 1378.0,977.4 1380.0,975.2 1382.0,973.0 1384.0,970.8 1386.0,968.5 1388.0,966.3 1390.0,964.0 1392.0,961.6 1394.0,959.3 1396.0,956.9 1398.0,954.5 1400.0,952.2 1402.0,949.7 1404.0,947.3 1406.0,944.9 1408.0,942.5 1410.0,940.0 1412.0,937.6 1414.0,935.1 1416.0,932.6 1418.0,930.2 1420.0,927.7 1422.0,925.3 1424.0,922.8 1426.0,920.3 1428.0,917.9 1430.0,915.4 1432.0,913.0 1434.0,910.5 1436.0,908.1 1438.0,905.7 1440.0,903.2 1442.0,900.8 1444.0,898.4 1446.0,896.0 1448.0,893.6 1450.0,891.3 1452.0,888.9 1454.0,886.5 1456.0,884.2 1458.0,881.8 1460.0,879.5 1462.0,877.2 1464.0,874.8 1466.0,872.5 1468.0,870.2 1470.0,867.9 1472.0,865.7 1474.0,863.4 1476.0,861.1 1478.0,858.9 1480.0,856.6 1482.0,854.4 1484.0,852.2 1486.0,849.9 1488.0,847.7 1490.0,845.5 1492.0,843.4 1494.0,841.2 1496.0,839.0 1498.0,836.9 1500.0,834.7 1502.0,832.6 1504.0,830.5 1506.0,828.4 1508.0,826.3 1510.0,824.3 1512.0,822.2 1514.0,820.2 1516.0,818.2 1518.0,816.2 1520.0,814.2 1522.0,812.3 1524.0,810.4 1526.0,808.5 1528.0,806.6 1530.0,804.7 1532.0,802.9 1534.0,801.1 1536.0,799.3 1538.0,797.6 1540.0,795.8 1542.0,794.1 1544.0,792.4 1546.0,790.8 1548.0,789.1 1550.0,787.5 1552.0,785.9 1554.0,784.4 1556.0,782.8 1558.0,781.3 1560.0,779.9 1562.0,778.4 1564.0,777.0 1566.0,775.6 1568.0,774.3 1570.0,772.9 1572.0,771.7 1574.0,770.4 1576.0,769.2 1578.0,768.0 1580.0,766.8 1582.0,765.7 1584.0,764.6 1586.0,763.6 1588.0,762.5 1590.0,761.6 1592.0,760.6 1594.0,759.7 1596.0,758.9 1598.0,758.0 1600.0,757.2 1602.0,756.5 1604.0,755.8 1606.0,755.1 1608.0,754.5 1610.0,753.9 1612.0,753.3 1614.0,752.8 1616.0,752.4 1618.0,751.9 1620.0,751.5 1622.0,751.2 1624.0,750.9 1626.0,750.6 1628.0,750.4 1630.0,750.2 1632.0,750.1 1634.0,750.0 1636.0,749.9 1638.0,749.9 1640.0,750.0 1642.0,750.0 1644.0,750.1 1646.0,750.3 1648.0,750.5 1650.0,750.7 1652.0,751.0 1654.0,751.3 1656.0,751.7 1658.0,752.1 1660.0,752.5 1662.0,753.0 1664.0,753.5 1666.0,754.1 1668.0,754.7 1670.0,755.3 1672.0,756.0 1674.0,756.7 1676.0,757.5 1678.0,758.2 1680.0,759.0 1682.0,759.9 1684.0,760.8 1686.0,761.7 1688.0,762.6 1690.0,763.6 1692.0,764.5 1694.0,765.6 1696.0,766.6 1698.0,767.6 1700.0,768.7 1702.0,769.8 1704.0,771.0 1706.0,772.1 1708.0,773.2 1710.0,774.4 1712.0,775.6 1714.0,776.8 1716.0,778.0 1718.0,779.2 1720.0,780.4 1722.0,781.7 1724.0,782.9 1726.0,784.2 1728.0,785.4 1730.0,786.7 1732.0,787.9 1734.0,789.2"/>
</g>
<rect x="300" y="56" width="1435" height="334" fill="none" stroke="#000" stroke-width="6"/>
<rect x="300" y="404" width="1435" height="334" fill="none" stroke="#000" stroke-width="6"/>
<rect x="300" y="747" width="1435" height="334" fill="none" stroke="#000" stroke-width="6"/>
<g font-family="'Liberation Serif', 'Times New Roman', serif" font-weight="bold" fill="#262626" filter="url(#crisp)">
<text x="175.60" y="147.10" font-size="62.54" textLength="122.16" lengthAdjust="spacingAndGlyphs">2000</text>
<text x="266.60" y="261.55" font-size="62.38" textLength="32.81" lengthAdjust="spacingAndGlyphs">0</text>
<text font-size="62.38"><tspan x="149.00" y="379.55" textLength="37.51" lengthAdjust="spacingAndGlyphs">−</tspan><tspan x="179.60" y="379.95" textLength="120.98" lengthAdjust="spacingAndGlyphs">2000</tspan></text>
<text x="205.60" y="466.25" font-size="62.44" textLength="93.03" lengthAdjust="spacingAndGlyphs">500</text>
<text x="267.00" y="577.05" font-size="62.33" textLength="32.33" lengthAdjust="spacingAndGlyphs">0</text>
<text font-size="62.54"><tspan x="173.70" y="689.55" textLength="38.36" lengthAdjust="spacingAndGlyphs">−</tspan><tspan x="206.00" y="691.10" textLength="93.80" lengthAdjust="spacingAndGlyphs">500</tspan></text>
<text x="176.20" y="846.60" font-size="62.51" textLength="121.71" lengthAdjust="spacingAndGlyphs">8500</text>
<text x="176.20" y="1064.70" font-size="62.46" textLength="121.61" lengthAdjust="spacingAndGlyphs">8000</text>
<text x="540.80" y="1145.70" font-size="62.41" textLength="61.10" lengthAdjust="spacingAndGlyphs">50</text>
<text x="798.40" y="1145.70" font-size="62.41" textLength="95.36" lengthAdjust="spacingAndGlyphs">100</text>
<text x="1072.00" y="1145.70" font-size="62.41" textLength="95.36" lengthAdjust="spacingAndGlyphs">150</text>
<text x="1341.80" y="1145.70" font-size="62.41" textLength="94.47" lengthAdjust="spacingAndGlyphs">200</text>
<text x="1617.40" y="1145.70" font-size="62.41" textLength="94.89" lengthAdjust="spacingAndGlyphs">250</text>
<text x="758.20" y="1217.05" font-size="61.34" textLength="365.32" lengthAdjust="spacingAndGlyphs">Time index (h)</text>
<text x="0" y="0" font-size="61.00" textLength="400.91" lengthAdjust="spacingAndGlyphs" transform="translate(65.70,425.20) rotate(-90)">High-frequency</text>
<text x="0" y="0" font-size="61.50" textLength="281.35" lengthAdjust="spacingAndGlyphs" transform="translate(135.90,366.00) rotate(-90)">component</text>
<text x="0" y="0" font-size="61.00" textLength="387.32" lengthAdjust="spacingAndGlyphs" transform="translate(65.70,824.20) rotate(-90)">Low-frequency</text>
<text x="0" y="0" font-size="61.50" textLength="283.36" lengthAdjust="spacingAndGlyphs" transform="translate(135.90,773.20) rotate(-90)">component</text>
<text x="0" y="0" font-size="61.00" textLength="157.57" lengthAdjust="spacingAndGlyphs" transform="translate(66.00,1042.80) rotate(-90)">Trend</text>
<text x="0" y="0" font-size="61.50" textLength="282.36" lengthAdjust="spacingAndGlyphs" transform="translate(135.70,1104.80) rotate(-90)">component</text>
</g>
</svg></body></html>
